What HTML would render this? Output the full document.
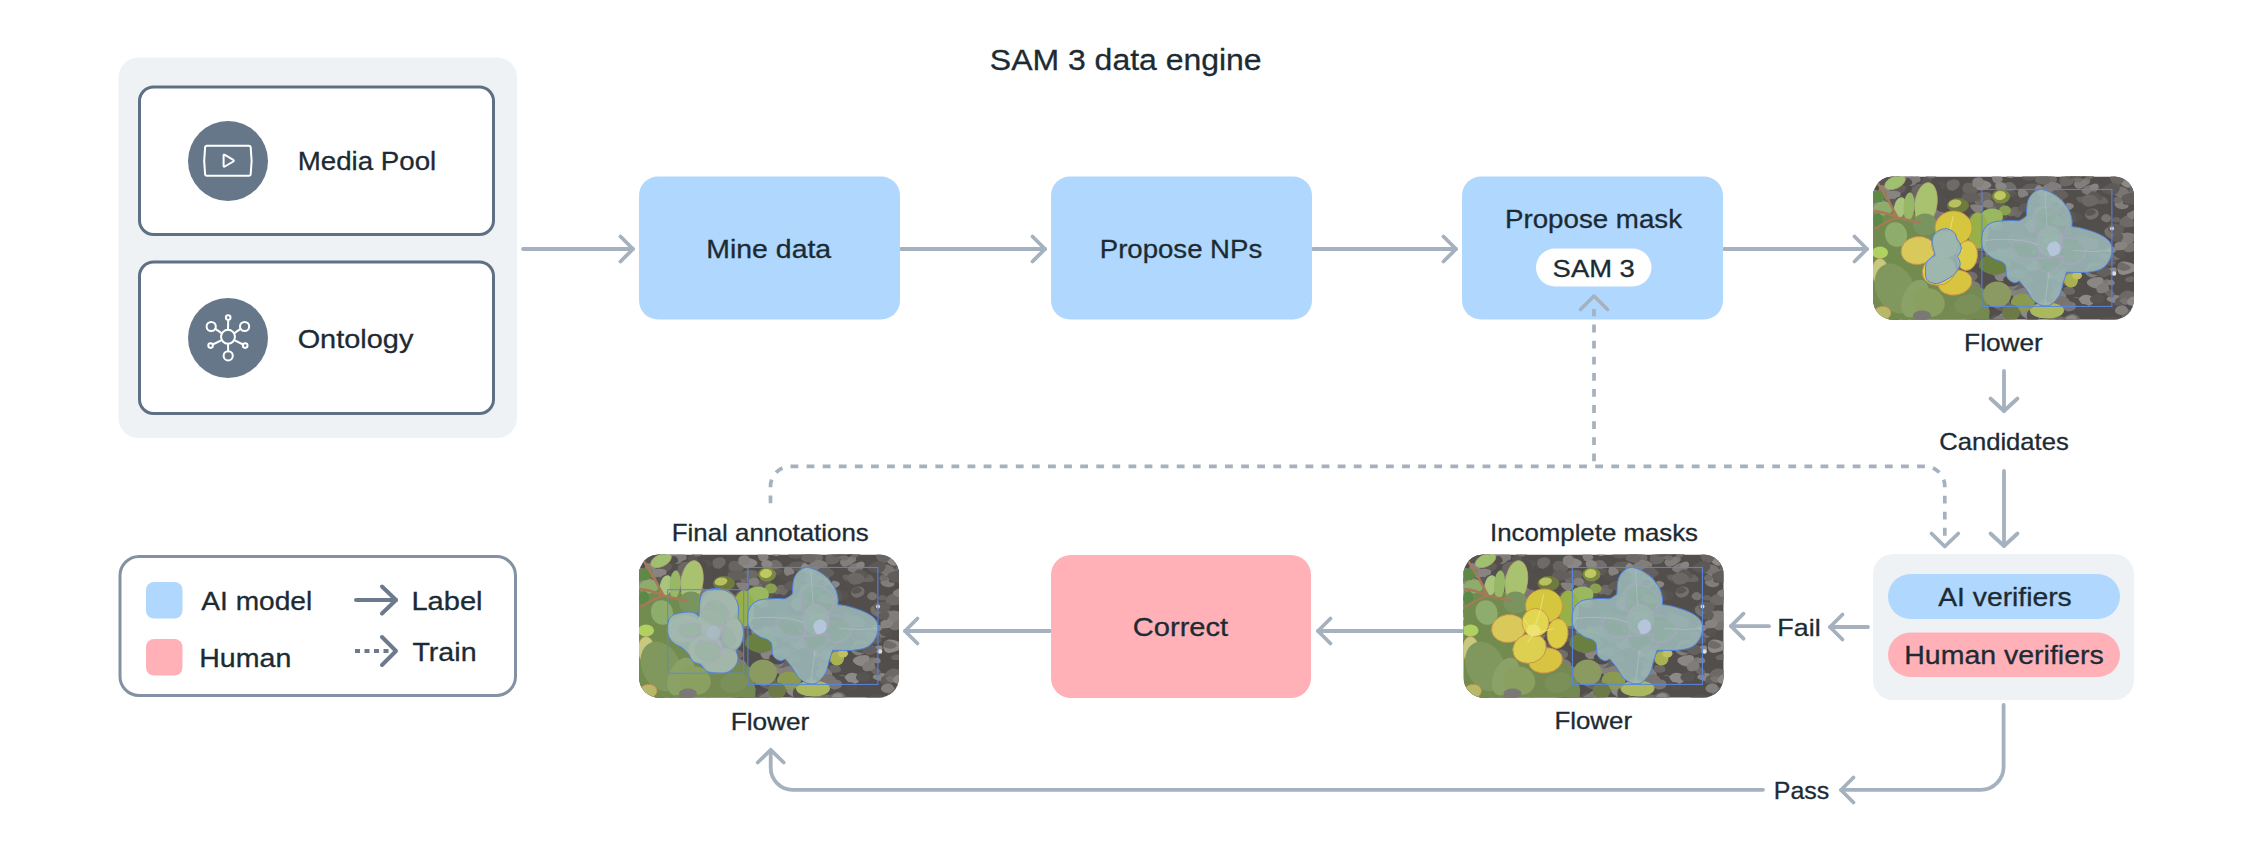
<!DOCTYPE html>
<html><head><meta charset="utf-8">
<style>
html,body{margin:0;padding:0;background:#fff;width:2252px;height:844px;overflow:hidden}
svg{display:block}
text{font-family:"Liberation Sans",sans-serif;fill:#1c2b33}
</style></head><body>
<svg width="2252" height="844" viewBox="0 0 2252 844">
<defs>
<clipPath id="c1"><rect x="1873" y="176.5" width="261" height="143" rx="20"/></clipPath>
<clipPath id="c2"><rect x="1463.5" y="554.5" width="260" height="143" rx="20"/></clipPath>
<clipPath id="c3"><rect x="639" y="554.5" width="260" height="143" rx="20"/></clipPath>
<g id="pbase">
<rect x="0" y="0" width="262" height="144" fill="#524e4b"/>
<path d="M108.7,80.1 Q109.9,77.2 115.9,75.6 Q121.9,74.1 123.9,76.5 Q126.0,79.0 126.5,82.6 Q127.1,86.3 120.9,86.4 Q114.7,86.5 111.2,84.8 Q107.6,83.1 108.7,80.1Z" fill="#8e8a87"/>
<path d="M100.0,59.1 Q103.5,59.8 107.5,62.4 Q111.5,65.0 108.7,67.3 Q106.0,69.5 102.4,69.4 Q98.8,69.2 96.5,67.5 Q94.3,65.8 95.4,62.1 Q96.5,58.3 100.0,59.1Z" fill="#504c49"/>
<path d="M181.0,67.6 Q178.6,68.8 176.4,68.9 Q174.1,68.9 171.6,67.6 Q169.2,66.3 170.6,63.6 Q172.0,60.8 175.8,60.5 Q179.6,60.2 181.5,63.3 Q183.4,66.4 181.0,67.6Z" fill="#86827f"/>
<path d="M188.9,30.7 Q184.8,33.2 180.1,32.6 Q175.4,32.0 174.5,28.3 Q173.6,24.6 176.0,22.4 Q178.4,20.1 183.9,21.7 Q189.5,23.4 191.3,25.8 Q193.0,28.2 188.9,30.7Z" fill="#7d7976"/>
<path d="M19.8,7.7 Q15.7,8.1 13.0,5.3 Q10.2,2.4 12.5,-0.5 Q14.7,-3.4 19.2,-3.5 Q23.6,-3.6 27.0,0.1 Q30.3,3.8 27.0,5.6 Q23.8,7.3 19.8,7.7Z" fill="#635f5c"/>
<path d="M274.1,-3.6 Q272.8,-2.5 270.1,-2.3 Q267.4,-2.1 265.0,-3.5 Q262.6,-5.0 264.7,-6.2 Q266.8,-7.5 269.2,-8.2 Q271.6,-9.0 273.5,-6.9 Q275.5,-4.8 274.1,-3.6Z" fill="#504c49"/>
<path d="M164.6,52.6 Q162.6,55.0 160.5,56.3 Q158.4,57.6 155.6,54.8 Q152.8,51.9 152.6,50.0 Q152.5,48.1 157.3,47.8 Q162.1,47.6 164.3,48.8 Q166.5,50.1 164.6,52.6Z" fill="#8c8885"/>
<path d="M103.5,71.3 Q101.9,73.1 99.2,72.4 Q96.4,71.7 95.9,69.6 Q95.3,67.5 97.0,66.2 Q98.6,64.9 101.1,66.3 Q103.6,67.7 104.4,68.7 Q105.2,69.6 103.5,71.3Z" fill="#6e6a67"/>
<path d="M143.1,132.0 Q141.4,131.2 142.0,128.3 Q142.5,125.5 145.1,124.3 Q147.7,123.0 150.8,125.0 Q153.9,127.0 154.7,129.8 Q155.4,132.5 150.1,132.7 Q144.8,132.9 143.1,132.0Z" fill="#8e8a87"/>
<path d="M91.2,109.9 Q89.5,112.5 86.5,112.9 Q83.5,113.4 80.8,111.9 Q78.2,110.5 78.0,108.7 Q77.9,106.9 80.9,106.0 Q84.0,105.0 88.5,106.2 Q93.0,107.4 91.2,109.9Z" fill="#6c6865"/>
<path d="M148.1,104.7 Q152.2,107.4 153.1,110.8 Q154.0,114.1 148.4,115.3 Q142.9,116.5 138.1,115.0 Q133.4,113.5 134.0,110.1 Q134.5,106.6 139.3,104.3 Q144.0,102.0 148.1,104.7Z" fill="#686461"/>
<path d="M99.5,-3.8 Q97.4,-2.7 94.6,-3.8 Q91.9,-5.0 92.5,-6.4 Q93.1,-7.9 95.4,-8.8 Q97.8,-9.7 99.7,-8.6 Q101.6,-7.5 101.6,-6.2 Q101.7,-4.8 99.5,-3.8Z" fill="#55514e"/>
<path d="M118.4,26.9 Q121.6,25.2 125.5,24.0 Q129.4,22.7 131.2,25.4 Q132.9,28.0 130.9,31.5 Q128.8,35.0 124.9,35.2 Q120.9,35.3 118.1,31.9 Q115.2,28.6 118.4,26.9Z" fill="#64605d"/>
<path d="M109.5,29.1 Q111.3,30.5 109.6,33.5 Q108.0,36.5 105.7,37.0 Q103.4,37.4 100.7,34.7 Q98.1,32.1 97.2,29.9 Q96.2,27.8 102.0,27.7 Q107.7,27.6 109.5,29.1Z" fill="#84807d"/>
<path d="M37.8,67.8 Q34.8,66.9 33.4,64.2 Q32.0,61.6 34.9,61.2 Q37.8,60.7 40.5,60.2 Q43.2,59.7 44.6,62.1 Q46.0,64.4 43.4,66.5 Q40.8,68.7 37.8,67.8Z" fill="#74706d"/>
<path d="M89.9,92.0 Q93.8,91.6 96.7,93.6 Q99.6,95.7 96.4,97.8 Q93.2,99.9 91.2,100.7 Q89.1,101.5 86.1,98.9 Q83.1,96.4 84.5,94.4 Q86.0,92.4 89.9,92.0Z" fill="#54504d"/>
<path d="M182.6,27.5 Q178.2,27.2 176.8,25.7 Q175.4,24.1 177.6,21.5 Q179.7,18.9 183.6,19.1 Q187.4,19.2 189.1,21.6 Q190.8,24.0 188.9,25.9 Q187.0,27.9 182.6,27.5Z" fill="#898582"/>
<path d="M48.0,58.3 Q47.9,55.0 50.3,52.7 Q52.6,50.4 57.8,51.5 Q62.9,52.5 62.9,55.9 Q62.9,59.3 58.3,61.2 Q53.8,63.2 50.9,62.4 Q48.1,61.6 48.0,58.3Z" fill="#878380"/>
<path d="M215.8,100.0 Q211.7,97.8 212.0,95.0 Q212.2,92.3 215.7,89.8 Q219.2,87.4 221.7,89.2 Q224.2,91.1 226.2,93.7 Q228.2,96.3 224.0,99.3 Q219.8,102.3 215.8,100.0Z" fill="#817d7a"/>
<path d="M73.2,138.4 Q74.9,140.2 72.0,141.7 Q69.1,143.3 65.8,142.6 Q62.5,142.0 62.3,140.1 Q62.1,138.2 64.1,136.3 Q66.1,134.4 68.8,135.6 Q71.5,136.7 73.2,138.4Z" fill="#75716e"/>
<path d="M251.6,3.6 Q254.1,1.7 257.4,2.3 Q260.6,2.9 261.1,4.5 Q261.5,6.0 259.4,8.4 Q257.2,10.8 254.7,10.4 Q252.2,10.0 250.7,7.7 Q249.1,5.5 251.6,3.6Z" fill="#8d8986"/>
<path d="M137.8,35.9 Q136.4,33.4 138.7,31.5 Q141.0,29.5 146.3,30.9 Q151.5,32.3 150.4,34.6 Q149.2,36.9 147.2,39.5 Q145.3,42.0 142.3,40.2 Q139.3,38.4 137.8,35.9Z" fill="#6d6966"/>
<path d="M101.4,149.6 Q96.6,148.5 98.5,144.2 Q100.5,139.9 103.9,139.6 Q107.3,139.2 112.8,140.7 Q118.4,142.2 117.8,145.4 Q117.2,148.6 111.7,149.7 Q106.2,150.7 101.4,149.6Z" fill="#514d4a"/>
<path d="M-1.1,18.8 Q-2.7,17.9 -2.5,16.0 Q-2.2,14.1 0.6,13.7 Q3.4,13.2 5.5,14.6 Q7.6,16.0 7.0,17.3 Q6.5,18.6 3.5,19.2 Q0.5,19.7 -1.1,18.8Z" fill="#84807d"/>
<path d="M138.7,14.0 Q142.0,13.6 143.2,15.5 Q144.3,17.4 143.7,19.4 Q143.2,21.4 139.9,21.2 Q136.6,20.9 134.4,20.0 Q132.3,19.1 133.8,16.7 Q135.4,14.3 138.7,14.0Z" fill="#5d5956"/>
<path d="M212.2,22.5 Q213.3,24.2 210.7,25.6 Q208.1,26.9 206.4,25.9 Q204.6,24.9 203.7,23.2 Q202.7,21.4 204.5,20.5 Q206.3,19.5 208.7,20.2 Q211.1,20.8 212.2,22.5Z" fill="#66625f"/>
<path d="M241.8,145.1 Q243.6,144.0 245.2,144.0 Q246.8,144.1 248.8,145.1 Q250.8,146.2 249.4,148.3 Q248.0,150.4 245.8,150.2 Q243.7,149.9 241.8,148.1 Q240.0,146.3 241.8,145.1Z" fill="#5d5956"/>
<path d="M40.4,14.2 Q43.0,14.5 44.5,15.5 Q45.9,16.6 44.4,18.7 Q42.9,20.9 40.2,21.0 Q37.5,21.1 36.3,19.0 Q35.1,16.9 36.4,15.5 Q37.7,14.0 40.4,14.2Z" fill="#5c5855"/>
<path d="M36.6,65.4 Q36.3,62.5 40.0,60.0 Q43.7,57.5 47.7,59.3 Q51.7,61.1 50.7,64.4 Q49.8,67.6 46.2,69.2 Q42.6,70.9 39.8,69.5 Q36.9,68.2 36.6,65.4Z" fill="#8e8a87"/>
<path d="M87.5,117.0 Q84.7,117.3 82.7,116.5 Q80.8,115.8 81.4,113.5 Q82.0,111.3 84.5,110.8 Q87.0,110.2 90.2,110.9 Q93.3,111.6 91.8,114.2 Q90.3,116.8 87.5,117.0Z" fill="#635f5c"/>
<path d="M122.6,-10.1 Q126.3,-10.6 127.9,-9.1 Q129.4,-7.6 128.0,-5.1 Q126.6,-2.5 123.3,-1.6 Q119.9,-0.6 117.4,-3.2 Q114.9,-5.7 116.9,-7.7 Q118.8,-9.6 122.6,-10.1Z" fill="#807c79"/>
<path d="M103.7,87.1 Q100.9,88.2 99.5,86.5 Q98.0,84.8 97.9,83.5 Q97.8,82.2 100.1,81.2 Q102.3,80.1 104.6,81.3 Q107.0,82.4 106.7,84.2 Q106.4,85.9 103.7,87.1Z" fill="#86827f"/>
<path d="M274.7,99.8 Q271.7,101.7 266.8,100.1 Q261.8,98.4 260.8,95.2 Q259.8,92.1 264.2,90.5 Q268.7,89.0 272.9,90.5 Q277.1,92.0 277.4,94.9 Q277.8,97.8 274.7,99.8Z" fill="#716d6a"/>
<path d="M95.9,40.1 Q98.2,36.8 101.3,36.3 Q104.4,35.9 107.7,38.8 Q111.1,41.6 109.6,44.1 Q108.1,46.6 104.8,46.7 Q101.4,46.8 97.5,45.1 Q93.6,43.4 95.9,40.1Z" fill="#696562"/>
<path d="M10.2,156.7 Q6.9,158.9 2.5,156.9 Q-1.8,154.9 -2.3,150.1 Q-2.8,145.3 1.1,143.4 Q5.0,141.5 10.3,144.3 Q15.6,147.1 14.6,150.8 Q13.6,154.4 10.2,156.7Z" fill="#575350"/>
<path d="M9.6,57.6 Q10.5,59.1 9.3,60.8 Q8.2,62.5 5.0,62.1 Q1.9,61.8 0.9,60.0 Q-0.1,58.3 2.5,57.0 Q5.1,55.7 6.9,55.9 Q8.7,56.2 9.6,57.6Z" fill="#625e5b"/>
<path d="M200.9,29.6 Q200.7,31.1 198.6,32.6 Q196.5,34.1 194.0,33.3 Q191.4,32.5 191.8,30.6 Q192.1,28.6 193.2,27.1 Q194.3,25.6 197.7,26.8 Q201.1,28.1 200.9,29.6Z" fill="#8a8683"/>
<path d="M51.9,103.1 Q51.1,105.2 46.6,106.2 Q42.2,107.2 41.0,103.6 Q39.8,100.0 40.2,97.7 Q40.7,95.3 45.7,96.1 Q50.7,96.8 51.7,98.9 Q52.8,101.0 51.9,103.1Z" fill="#65615e"/>
<path d="M92.8,116.0 Q87.5,118.7 84.1,117.1 Q80.7,115.4 79.0,112.0 Q77.2,108.6 81.8,106.3 Q86.3,104.1 91.0,106.6 Q95.7,109.2 96.9,111.2 Q98.1,113.3 92.8,116.0Z" fill="#736f6c"/>
<path d="M202.5,120.5 Q205.1,120.3 207.0,122.0 Q209.0,123.7 207.2,125.7 Q205.5,127.8 203.0,127.3 Q200.5,126.7 198.3,125.9 Q196.1,125.1 198.0,122.9 Q199.9,120.8 202.5,120.5Z" fill="#76726f"/>
<path d="M16.0,35.5 Q20.5,35.0 21.2,38.1 Q21.8,41.1 19.4,44.0 Q17.0,46.8 11.6,46.1 Q6.2,45.3 6.5,41.9 Q6.7,38.4 9.1,37.2 Q11.5,36.0 16.0,35.5Z" fill="#837f7c"/>
<path d="M273.7,66.6 Q273.5,68.2 270.4,69.1 Q267.4,69.9 264.2,68.0 Q261.0,66.1 262.8,64.1 Q264.6,62.1 266.9,62.0 Q269.2,61.9 271.6,63.4 Q273.9,64.9 273.7,66.6Z" fill="#75716e"/>
<path d="M155.1,19.4 Q157.3,22.2 153.9,25.1 Q150.6,27.9 145.5,26.4 Q140.3,24.8 139.8,22.3 Q139.2,19.7 143.5,17.5 Q147.9,15.3 150.4,15.9 Q152.9,16.6 155.1,19.4Z" fill="#55514e"/>
<path d="M71.3,11.5 Q69.3,13.2 66.4,12.6 Q63.4,12.1 62.9,9.7 Q62.4,7.4 64.1,6.1 Q65.8,4.9 69.2,5.5 Q72.5,6.1 72.9,7.9 Q73.2,9.7 71.3,11.5Z" fill="#585451"/>
<path d="M132.9,73.1 Q137.0,74.0 137.7,77.5 Q138.5,81.0 134.4,83.2 Q130.3,85.3 125.7,83.4 Q121.2,81.5 120.5,78.8 Q119.8,76.1 124.3,74.1 Q128.8,72.1 132.9,73.1Z" fill="#837f7c"/>
<path d="M19.5,144.8 Q14.5,142.6 14.0,139.7 Q13.5,136.8 17.2,134.2 Q20.9,131.6 26.4,133.6 Q31.9,135.6 31.0,138.8 Q30.1,142.0 27.4,144.5 Q24.6,147.0 19.5,144.8Z" fill="#8a8683"/>
<path d="M39.2,-1.5 Q40.7,-2.3 43.8,-1.5 Q46.9,-0.8 47.5,2.2 Q48.1,5.2 45.4,5.7 Q42.7,6.3 39.8,5.4 Q36.9,4.5 37.3,1.9 Q37.7,-0.7 39.2,-1.5Z" fill="#807c79"/>
<path d="M246.6,86.4 Q249.4,83.9 255.6,85.7 Q261.7,87.4 263.0,90.3 Q264.4,93.2 259.6,95.7 Q254.8,98.1 250.2,98.4 Q245.5,98.7 244.6,93.8 Q243.8,89.0 246.6,86.4Z" fill="#8e8a87"/>
<path d="M143.7,76.0 Q143.3,77.5 139.6,78.4 Q135.9,79.2 133.9,76.8 Q132.0,74.3 133.5,73.1 Q135.1,71.9 137.9,71.4 Q140.7,70.9 142.4,72.7 Q144.2,74.6 143.7,76.0Z" fill="#878380"/>
<path d="M215.6,8.8 Q219.1,7.9 223.0,8.8 Q226.9,9.7 225.1,12.7 Q223.3,15.7 219.5,17.6 Q215.8,19.5 211.3,17.3 Q206.9,15.1 209.5,12.4 Q212.1,9.6 215.6,8.8Z" fill="#7c7875"/>
<path d="M129.7,142.5 Q132.0,145.6 129.7,148.0 Q127.4,150.4 122.8,150.1 Q118.1,149.9 116.9,147.0 Q115.7,144.1 118.2,142.0 Q120.8,139.9 124.0,139.7 Q127.3,139.4 129.7,142.5Z" fill="#635f5c"/>
<path d="M103.9,75.2 Q108.5,73.6 112.4,77.7 Q116.3,81.7 112.1,84.1 Q107.8,86.5 103.4,87.5 Q98.9,88.6 96.7,84.4 Q94.5,80.3 96.9,78.5 Q99.2,76.8 103.9,75.2Z" fill="#625e5b"/>
<path d="M152.0,66.8 Q151.0,67.9 148.9,68.2 Q146.9,68.5 145.6,67.1 Q144.4,65.8 145.1,64.1 Q145.7,62.3 148.0,62.4 Q150.2,62.6 151.6,64.1 Q153.0,65.6 152.0,66.8Z" fill="#7e7a77"/>
<path d="M17.6,40.5 Q18.9,39.0 21.7,38.6 Q24.4,38.2 26.1,39.7 Q27.7,41.1 27.0,42.4 Q26.2,43.8 23.2,45.0 Q20.3,46.2 18.3,44.1 Q16.3,42.1 17.6,40.5Z" fill="#56524f"/>
<path d="M50.2,18.0 Q50.0,15.5 52.5,14.2 Q55.1,12.8 57.4,14.2 Q59.7,15.6 59.8,17.1 Q59.9,18.5 58.2,19.6 Q56.6,20.6 53.5,20.5 Q50.4,20.5 50.2,18.0Z" fill="#7c7875"/>
<path d="M85.0,119.4 Q84.2,121.0 81.0,121.6 Q77.8,122.3 76.3,120.7 Q74.8,119.1 75.9,117.4 Q77.1,115.6 80.1,115.3 Q83.1,114.9 84.4,116.4 Q85.7,117.9 85.0,119.4Z" fill="#726e6b"/>
<path d="M238.4,77.9 Q241.2,75.1 244.4,75.2 Q247.7,75.3 249.5,77.1 Q251.2,78.9 248.4,81.1 Q245.6,83.3 243.4,83.5 Q241.2,83.7 238.4,82.2 Q235.7,80.7 238.4,77.9Z" fill="#74706d"/>
<path d="M112.9,44.1 Q113.8,46.3 112.1,47.6 Q110.3,48.9 107.7,48.2 Q105.1,47.4 104.6,45.7 Q104.1,44.0 105.6,42.5 Q107.1,41.0 109.5,41.4 Q111.9,41.8 112.9,44.1Z" fill="#65615e"/>
<path d="M152.1,15.2 Q148.6,13.5 149.9,10.6 Q151.3,7.8 155.4,7.2 Q159.4,6.6 164.6,7.3 Q169.8,8.1 167.3,12.8 Q164.8,17.6 160.3,17.2 Q155.7,16.8 152.1,15.2Z" fill="#635f5c"/>
<path d="M198.4,121.5 Q202.5,121.0 206.6,122.4 Q210.7,123.9 210.5,127.4 Q210.3,130.9 205.8,132.0 Q201.3,133.2 196.3,132.2 Q191.4,131.3 192.9,126.6 Q194.3,122.0 198.4,121.5Z" fill="#534f4c"/>
<path d="M170.8,3.6 Q167.4,3.4 164.2,1.0 Q161.1,-1.4 163.3,-4.6 Q165.5,-7.8 169.9,-8.3 Q174.3,-8.9 177.4,-5.3 Q180.5,-1.7 177.3,1.0 Q174.2,3.8 170.8,3.6Z" fill="#6a6663"/>
<path d="M225.5,10.7 Q224.8,12.5 222.3,13.2 Q219.7,14.0 218.1,13.0 Q216.4,12.0 216.8,10.4 Q217.3,8.8 220.2,7.6 Q223.2,6.4 224.7,7.7 Q226.3,9.0 225.5,10.7Z" fill="#888481"/>
<path d="M7.1,9.6 Q8.4,7.2 11.2,7.4 Q14.0,7.7 15.9,9.7 Q17.7,11.7 17.5,14.1 Q17.2,16.5 11.6,16.2 Q5.9,15.9 5.8,14.0 Q5.7,12.1 7.1,9.6Z" fill="#878380"/>
<path d="M143.0,79.0 Q145.0,78.3 147.7,79.6 Q150.3,80.8 148.7,83.2 Q147.0,85.5 144.4,86.0 Q141.9,86.5 140.6,84.9 Q139.3,83.4 140.1,81.5 Q140.9,79.7 143.0,79.0Z" fill="#6c6865"/>
<path d="M234.9,124.2 Q232.5,123.0 235.0,120.6 Q237.6,118.1 242.6,118.4 Q247.6,118.6 247.2,120.8 Q246.8,123.0 245.8,125.4 Q244.8,127.8 241.0,126.6 Q237.3,125.4 234.9,124.2Z" fill="#898582"/>
<path d="M16.0,41.5 Q17.0,45.9 13.1,47.1 Q9.2,48.4 3.3,47.1 Q-2.5,45.9 -0.9,42.8 Q0.7,39.7 4.8,37.0 Q8.9,34.3 11.9,35.6 Q15.0,37.0 16.0,41.5Z" fill="#615d5a"/>
<path d="M234.6,102.8 Q236.0,103.2 237.9,104.8 Q239.9,106.5 237.9,107.7 Q236.0,109.0 233.2,109.3 Q230.5,109.6 229.7,107.3 Q228.8,104.9 231.0,103.6 Q233.1,102.3 234.6,102.8Z" fill="#7a7673"/>
<path d="M143.3,12.2 Q142.3,13.6 138.4,14.4 Q134.4,15.3 131.8,14.0 Q129.1,12.8 129.9,9.6 Q130.6,6.4 134.7,5.7 Q138.8,5.0 141.5,7.9 Q144.2,10.8 143.3,12.2Z" fill="#726e6b"/>
<path d="M58.5,122.8 Q56.8,122.0 56.6,120.0 Q56.5,118.1 60.0,118.0 Q63.6,118.0 65.5,118.6 Q67.4,119.2 67.1,121.3 Q66.7,123.4 63.4,123.5 Q60.2,123.6 58.5,122.8Z" fill="#6f6b68"/>
<path d="M16.3,1.0 Q16.7,3.6 12.1,6.3 Q7.6,9.0 3.3,6.8 Q-1.0,4.6 -0.3,1.8 Q0.3,-0.9 4.8,-1.9 Q9.4,-2.9 12.7,-2.3 Q15.9,-1.6 16.3,1.0Z" fill="#6b6764"/>
<path d="M62.6,59.1 Q64.9,60.8 64.4,63.9 Q63.8,67.0 60.7,68.1 Q57.5,69.2 52.8,66.4 Q48.1,63.7 50.5,60.9 Q52.9,58.1 56.6,57.7 Q60.3,57.3 62.6,59.1Z" fill="#595552"/>
<path d="M153.1,86.9 Q156.1,85.5 160.5,84.2 Q164.8,82.9 168.1,86.4 Q171.4,89.8 167.8,91.9 Q164.2,94.0 160.2,94.8 Q156.1,95.6 153.2,92.0 Q150.2,88.3 153.1,86.9Z" fill="#84807d"/>
<path d="M160.9,73.3 Q164.0,72.2 167.0,72.7 Q170.1,73.1 170.1,76.3 Q170.1,79.4 168.0,79.8 Q165.8,80.2 163.0,79.1 Q160.1,78.1 159.0,76.2 Q157.8,74.3 160.9,73.3Z" fill="#8e8a87"/>
<path d="M254.2,7.1 Q259.4,4.7 262.2,6.8 Q264.9,8.8 264.4,12.2 Q263.9,15.6 260.4,17.1 Q256.9,18.7 252.0,16.4 Q247.2,14.1 248.1,11.8 Q249.0,9.5 254.2,7.1Z" fill="#7b7774"/>
<path d="M266.9,119.4 Q262.7,118.4 262.4,114.6 Q262.1,110.8 264.4,108.7 Q266.6,106.6 270.6,109.0 Q274.6,111.4 276.3,113.9 Q277.9,116.4 274.6,118.4 Q271.2,120.3 266.9,119.4Z" fill="#534f4c"/>
<path d="M205.9,83.4 Q207.6,86.8 203.9,87.9 Q200.2,88.9 195.8,88.6 Q191.5,88.2 188.7,84.7 Q185.9,81.3 191.2,78.6 Q196.5,75.9 200.4,77.9 Q204.2,79.9 205.9,83.4Z" fill="#696562"/>
<path d="M46.3,65.5 Q48.1,63.8 50.2,63.5 Q52.3,63.3 54.9,64.6 Q57.5,65.8 56.6,67.3 Q55.7,68.8 53.6,69.8 Q51.4,70.9 48.0,69.1 Q44.5,67.3 46.3,65.5Z" fill="#696562"/>
<path d="M152.1,98.6 Q148.4,99.2 146.0,98.8 Q143.6,98.4 143.3,96.0 Q143.0,93.6 147.2,92.8 Q151.4,92.0 153.3,93.5 Q155.3,95.0 155.5,96.5 Q155.8,97.9 152.1,98.6Z" fill="#605c59"/>
<path d="M202.3,75.7 Q201.0,74.3 202.8,73.2 Q204.6,72.1 207.4,72.4 Q210.2,72.7 211.0,74.3 Q211.8,75.9 209.8,77.4 Q207.7,78.9 205.6,78.0 Q203.5,77.1 202.3,75.7Z" fill="#7a7673"/>
<path d="M91.7,129.4 Q94.2,126.9 97.8,127.2 Q101.4,127.5 102.8,130.9 Q104.3,134.3 101.2,137.2 Q98.2,140.2 95.1,138.4 Q92.0,136.5 90.6,134.2 Q89.2,131.8 91.7,129.4Z" fill="#807c79"/>
<path d="M271.2,39.8 Q271.8,44.0 266.8,44.4 Q261.8,44.8 259.4,43.3 Q257.1,41.7 256.6,39.4 Q256.1,37.0 258.8,35.6 Q261.6,34.2 266.1,34.9 Q270.7,35.7 271.2,39.8Z" fill="#65615e"/>
<path d="M76.8,104.3 Q77.0,106.8 73.8,108.0 Q70.7,109.3 67.5,107.5 Q64.4,105.8 65.5,104.2 Q66.6,102.5 69.5,101.7 Q72.3,100.8 74.5,101.3 Q76.7,101.7 76.8,104.3Z" fill="#8a8683"/>
<path d="M1.4,57.7 Q-0.7,59.6 -3.6,58.4 Q-6.5,57.3 -6.6,55.5 Q-6.6,53.6 -4.9,51.3 Q-3.3,49.0 0.0,50.6 Q3.3,52.2 3.4,54.0 Q3.4,55.9 1.4,57.7Z" fill="#7a7673"/>
<path d="M233.8,95.8 Q232.7,94.1 233.9,93.0 Q235.2,91.9 239.0,91.2 Q242.7,90.5 243.3,92.3 Q244.0,94.1 242.9,96.5 Q241.8,99.0 238.3,98.2 Q234.9,97.4 233.8,95.8Z" fill="#8d8986"/>
<path d="M241.7,-3.4 Q243.8,-5.0 245.3,-5.0 Q246.8,-5.0 248.2,-3.2 Q249.7,-1.5 249.2,-0.2 Q248.7,1.1 245.6,1.1 Q242.5,1.1 241.1,-0.3 Q239.7,-1.7 241.7,-3.4Z" fill="#6f6b68"/>
<path d="M232.1,113.0 Q232.6,114.7 231.7,115.6 Q230.8,116.4 228.1,116.7 Q225.4,117.0 224.6,115.9 Q223.7,114.8 224.4,113.5 Q225.1,112.2 228.3,111.7 Q231.5,111.2 232.1,113.0Z" fill="#65615e"/>
<path d="M158.8,72.4 Q158.1,69.3 160.0,67.6 Q161.8,65.9 165.5,65.9 Q169.3,65.8 170.1,68.3 Q171.0,70.7 169.5,72.5 Q167.9,74.4 163.7,75.0 Q159.4,75.5 158.8,72.4Z" fill="#7d7976"/>
<path d="M77.7,123.4 Q82.2,123.3 83.9,125.6 Q85.5,127.8 83.2,130.6 Q80.9,133.4 77.7,133.2 Q74.5,132.9 72.2,130.3 Q69.9,127.8 71.5,125.6 Q73.1,123.4 77.7,123.4Z" fill="#5b5754"/>
<path d="M92.1,111.0 Q94.9,114.0 91.9,117.3 Q89.0,120.6 85.6,120.0 Q82.1,119.4 79.4,116.3 Q76.6,113.2 78.3,111.4 Q80.1,109.7 84.7,108.8 Q89.4,107.9 92.1,111.0Z" fill="#75716e"/>
<path d="M180.4,122.7 Q176.0,120.6 177.4,117.7 Q178.8,114.7 181.5,112.3 Q184.1,109.8 188.6,113.5 Q193.1,117.2 193.3,119.8 Q193.5,122.3 189.2,123.5 Q184.9,124.7 180.4,122.7Z" fill="#837f7c"/>
<path d="M22.2,42.5 Q23.4,41.1 26.2,42.1 Q29.0,43.0 29.8,44.3 Q30.5,45.6 28.3,47.3 Q26.2,49.1 24.0,48.4 Q21.8,47.6 21.3,45.8 Q20.9,44.0 22.2,42.5Z" fill="#726e6b"/>
<path d="M76.3,128.5 Q77.5,131.6 76.8,133.5 Q76.2,135.3 71.9,135.4 Q67.6,135.5 65.7,133.4 Q63.7,131.2 65.5,129.3 Q67.3,127.4 71.2,126.4 Q75.2,125.5 76.3,128.5Z" fill="#5c5855"/>
<path d="M96.3,35.9 Q95.1,36.4 91.9,36.3 Q88.7,36.2 88.3,34.3 Q87.9,32.5 90.5,31.3 Q93.1,30.2 95.5,31.0 Q98.0,31.9 97.7,33.7 Q97.5,35.4 96.3,35.9Z" fill="#534f4c"/>
<path d="M48.0,95.9 Q43.0,95.2 42.5,90.7 Q42.1,86.3 45.8,84.7 Q49.4,83.1 55.2,85.9 Q61.0,88.8 59.8,91.4 Q58.5,94.1 55.7,95.3 Q52.9,96.5 48.0,95.9Z" fill="#514d4a"/>
<path d="M208.7,43.4 Q206.5,45.8 201.0,45.9 Q195.5,46.1 194.9,43.4 Q194.3,40.7 196.6,38.2 Q198.8,35.6 203.3,36.1 Q207.8,36.6 209.4,38.8 Q210.9,41.1 208.7,43.4Z" fill="#56524f"/>
<path d="M243.8,69.8 Q244.6,67.9 247.7,64.9 Q250.8,61.8 255.1,63.9 Q259.3,65.9 259.6,69.9 Q259.9,73.8 256.4,74.5 Q252.9,75.1 247.9,73.4 Q242.9,71.7 243.8,69.8Z" fill="#54504d"/>
<path d="M239.5,44.5 Q238.2,43.0 240.0,41.8 Q241.8,40.6 243.4,40.6 Q245.1,40.6 246.9,41.9 Q248.8,43.2 248.0,44.7 Q247.3,46.2 244.1,46.1 Q240.9,46.0 239.5,44.5Z" fill="#696562"/>
<path d="M21.6,139.2 Q26.1,139.8 25.7,143.7 Q25.3,147.7 21.5,149.9 Q17.7,152.2 13.1,149.8 Q8.6,147.4 9.6,143.0 Q10.6,138.7 13.8,138.6 Q17.0,138.6 21.6,139.2Z" fill="#54504d"/>
<path d="M180.7,148.4 Q177.2,148.1 175.2,145.7 Q173.2,143.4 174.9,141.5 Q176.5,139.5 181.3,139.7 Q186.0,139.9 186.4,142.2 Q186.8,144.4 185.5,146.6 Q184.1,148.7 180.7,148.4Z" fill="#74706d"/>
<path d="M252.9,7.2 Q257.4,9.0 257.4,11.5 Q257.4,14.0 254.7,16.4 Q252.0,18.7 246.8,16.7 Q241.7,14.6 242.2,12.1 Q242.7,9.7 245.6,7.5 Q248.5,5.3 252.9,7.2Z" fill="#534f4c"/>
<path d="M256.4,19.4 Q255.0,22.1 251.2,22.0 Q247.4,21.9 244.7,19.9 Q242.0,17.8 244.7,15.2 Q247.5,12.5 251.6,12.2 Q255.8,11.8 256.7,14.2 Q257.7,16.6 256.4,19.4Z" fill="#8c8885"/>
<path d="M30.0,13.1 Q27.9,12.7 27.6,10.6 Q27.3,8.5 29.2,8.0 Q31.0,7.5 33.6,7.9 Q36.1,8.4 35.5,10.5 Q35.0,12.6 33.5,13.0 Q32.1,13.5 30.0,13.1Z" fill="#56524f"/>
<path d="M142.4,122.2 Q139.3,120.2 139.4,117.2 Q139.5,114.2 142.1,113.6 Q144.7,113.1 147.6,114.1 Q150.4,115.1 152.5,117.7 Q154.5,120.3 150.0,122.2 Q145.4,124.1 142.4,122.2Z" fill="#85817e"/>
<path d="M77.2,61.5 Q74.3,62.9 70.3,62.8 Q66.2,62.7 64.2,60.3 Q62.1,57.8 66.8,55.2 Q71.4,52.6 75.0,54.1 Q78.6,55.5 79.3,57.8 Q80.0,60.2 77.2,61.5Z" fill="#84807d"/>
<path d="M82.4,46.7 Q80.5,44.7 80.6,41.5 Q80.7,38.3 83.5,38.0 Q86.4,37.7 90.7,39.7 Q95.1,41.7 93.6,43.5 Q92.1,45.4 88.2,47.0 Q84.3,48.7 82.4,46.7Z" fill="#54504d"/>
<path d="M180.1,111.8 Q177.7,110.2 179.4,108.0 Q181.1,105.8 183.9,105.6 Q186.7,105.3 188.6,107.7 Q190.6,110.1 189.0,111.7 Q187.5,113.3 185.0,113.4 Q182.5,113.5 180.1,111.8Z" fill="#75716e"/>
<path d="M33.2,11.8 Q32.6,15.5 28.3,16.9 Q24.0,18.2 19.7,16.5 Q15.3,14.8 16.5,11.3 Q17.7,7.8 22.6,6.2 Q27.4,4.6 30.6,6.4 Q33.8,8.1 33.2,11.8Z" fill="#615d5a"/>
<path d="M70.2,106.5 Q66.4,105.0 66.4,102.9 Q66.3,100.8 70.5,98.5 Q74.7,96.2 77.9,98.2 Q81.1,100.2 82.2,102.7 Q83.3,105.2 78.6,106.6 Q74.0,108.1 70.2,106.5Z" fill="#55514e"/>
<path d="M209.8,-8.8 Q212.8,-9.5 214.1,-8.0 Q215.4,-6.5 215.5,-5.5 Q215.5,-4.4 213.5,-3.2 Q211.4,-2.0 209.8,-3.2 Q208.1,-4.3 207.4,-6.2 Q206.8,-8.1 209.8,-8.8Z" fill="#5e5a57"/>
<path d="M268.2,149.0 Q268.8,151.6 267.9,153.2 Q267.1,154.7 263.6,154.6 Q260.2,154.4 258.9,152.1 Q257.6,149.9 258.9,148.7 Q260.1,147.5 263.9,146.9 Q267.6,146.3 268.2,149.0Z" fill="#696562"/>
<path d="M22.8,120.3 Q21.5,122.2 19.0,122.1 Q16.4,122.1 15.2,120.7 Q14.0,119.4 14.5,118.4 Q15.0,117.3 17.4,116.3 Q19.7,115.3 21.9,116.9 Q24.1,118.5 22.8,120.3Z" fill="#888481"/>
<path d="M-7.3,45.6 Q-4.4,43.2 -0.8,43.3 Q2.9,43.4 3.9,45.8 Q4.9,48.3 2.9,50.6 Q0.8,52.8 -2.8,52.0 Q-6.5,51.2 -8.3,49.7 Q-10.2,48.1 -7.3,45.6Z" fill="#6a6663"/>
<path d="M120.6,154.5 Q115.3,155.2 115.2,152.7 Q115.0,150.3 116.8,148.2 Q118.6,146.1 122.9,145.4 Q127.3,144.6 127.7,147.8 Q128.2,151.0 127.0,152.4 Q125.9,153.9 120.6,154.5Z" fill="#84807d"/>
<path d="M-2.1,12.4 Q0.9,13.7 2.0,15.8 Q3.2,17.9 -1.6,20.8 Q-6.4,23.6 -9.0,21.2 Q-11.6,18.8 -11.7,16.7 Q-11.9,14.7 -8.4,12.9 Q-5.0,11.2 -2.1,12.4Z" fill="#605c59"/>
<path d="M147.0,95.7 Q146.6,98.8 143.4,101.0 Q140.3,103.2 138.3,102.2 Q136.3,101.2 135.1,98.5 Q134.0,95.7 136.8,94.5 Q139.7,93.3 143.5,93.0 Q147.4,92.6 147.0,95.7Z" fill="#827e7b"/>
<path d="M117.8,49.6 Q118.2,46.8 122.2,45.8 Q126.2,44.7 128.0,46.2 Q129.8,47.6 129.7,49.9 Q129.7,52.2 126.5,52.9 Q123.3,53.6 120.3,53.0 Q117.3,52.4 117.8,49.6Z" fill="#7f7b78"/>
<path d="M134.9,106.2 Q138.4,105.1 142.1,106.6 Q145.8,108.1 144.3,110.1 Q142.8,112.1 140.1,112.6 Q137.4,113.0 135.7,112.3 Q133.9,111.6 132.7,109.4 Q131.5,107.3 134.9,106.2Z" fill="#807c79"/>
<path d="M199.2,3.8 Q196.2,2.8 196.8,0.9 Q197.4,-1.1 199.7,-1.8 Q202.0,-2.4 204.8,-1.6 Q207.5,-0.7 206.7,0.6 Q205.9,2.0 204.0,3.3 Q202.2,4.7 199.2,3.8Z" fill="#84807d"/>
<path d="M40.1,39.0 Q38.9,40.4 35.6,41.3 Q32.3,42.2 30.4,39.8 Q28.4,37.4 29.8,35.8 Q31.3,34.1 35.3,34.2 Q39.3,34.2 40.3,35.9 Q41.4,37.6 40.1,39.0Z" fill="#65615e"/>
<path d="M184.5,154.6 Q180.3,155.9 176.6,154.6 Q173.0,153.2 172.6,150.4 Q172.3,147.6 176.8,145.8 Q181.4,143.9 185.4,143.8 Q189.3,143.7 189.1,148.5 Q188.8,153.3 184.5,154.6Z" fill="#7a7673"/>
<path d="M214.1,106.9 Q213.1,104.4 216.9,102.5 Q220.7,100.6 225.5,100.5 Q230.4,100.4 230.6,103.8 Q230.7,107.1 227.9,110.1 Q225.0,113.1 220.1,111.3 Q215.2,109.4 214.1,106.9Z" fill="#8b8784"/>
<path d="M90.6,97.2 Q93.6,94.8 97.7,94.9 Q101.7,95.1 103.6,97.5 Q105.5,99.9 103.7,102.2 Q101.9,104.6 97.4,105.6 Q92.8,106.6 90.2,103.1 Q87.5,99.5 90.6,97.2Z" fill="#716d6a"/>
<path d="M176.4,62.6 Q177.4,60.2 180.0,59.5 Q182.7,58.8 186.1,61.2 Q189.5,63.5 188.0,65.5 Q186.6,67.5 182.1,68.8 Q177.6,70.2 176.5,67.6 Q175.4,64.9 176.4,62.6Z" fill="#605c59"/>
<path d="M95.2,102.2 Q99.8,102.1 101.4,103.7 Q102.9,105.3 101.8,107.5 Q100.7,109.7 98.4,111.1 Q96.0,112.5 93.1,111.0 Q90.2,109.5 90.3,105.9 Q90.5,102.3 95.2,102.2Z" fill="#74706d"/>
<path d="M30.2,69.4 Q31.0,67.8 33.7,65.8 Q36.5,63.9 40.6,66.7 Q44.7,69.5 43.1,71.3 Q41.4,73.0 38.8,73.9 Q36.2,74.8 32.8,72.9 Q29.4,70.9 30.2,69.4Z" fill="#8b8784"/>
<path d="M98.9,41.8 Q101.2,43.3 100.0,44.6 Q98.7,45.8 96.4,47.1 Q94.0,48.4 91.9,46.5 Q89.8,44.6 90.5,43.1 Q91.1,41.5 93.9,40.9 Q96.7,40.2 98.9,41.8Z" fill="#54504d"/>
<path d="M64.2,34.7 Q65.7,32.6 68.7,33.3 Q71.6,33.9 72.9,36.2 Q74.2,38.4 72.4,40.5 Q70.7,42.6 67.4,41.6 Q64.1,40.6 63.4,38.6 Q62.7,36.7 64.2,34.7Z" fill="#534f4c"/>
<path d="M105.1,113.6 Q108.4,112.0 112.4,112.7 Q116.4,113.4 118.3,116.4 Q120.1,119.4 117.4,120.8 Q114.7,122.2 108.9,121.9 Q103.2,121.7 102.5,118.4 Q101.8,115.2 105.1,113.6Z" fill="#7f7b78"/>
<path d="M8.0,133.6 Q10.6,131.9 13.2,132.6 Q15.8,133.2 15.9,135.0 Q16.0,136.8 14.2,138.9 Q12.5,140.9 9.5,139.8 Q6.5,138.6 6.0,136.9 Q5.4,135.3 8.0,133.6Z" fill="#827e7b"/>
<path d="M248.0,74.1 Q253.1,73.9 253.2,76.9 Q253.3,79.8 252.3,81.1 Q251.3,82.3 247.7,82.0 Q244.1,81.7 241.8,79.4 Q239.4,77.0 241.1,75.7 Q242.9,74.4 248.0,74.1Z" fill="#55514e"/>
<path d="M32.5,35.5 Q36.2,36.8 36.6,39.5 Q37.0,42.2 35.0,43.1 Q32.9,44.0 28.6,43.8 Q24.3,43.6 23.5,41.2 Q22.7,38.7 25.8,36.5 Q28.8,34.3 32.5,35.5Z" fill="#8b8784"/>
<path d="M44.3,114.8 Q45.6,117.0 42.5,117.7 Q39.4,118.3 37.0,118.1 Q34.6,117.8 34.3,115.0 Q34.1,112.3 36.7,112.1 Q39.4,111.9 41.1,112.3 Q42.9,112.7 44.3,114.8Z" fill="#676360"/>
<path d="M16.9,115.9 Q18.6,118.6 16.5,121.8 Q14.3,124.9 9.8,125.1 Q5.3,125.2 2.5,122.5 Q-0.2,119.7 3.0,116.7 Q6.2,113.8 10.7,113.5 Q15.2,113.2 16.9,115.9Z" fill="#888481"/>
<path d="M101.2,24.0 Q101.7,21.6 105.3,20.8 Q108.8,19.9 111.0,21.4 Q113.1,23.0 112.5,24.5 Q111.9,26.0 109.5,27.1 Q107.2,28.3 103.9,27.3 Q100.6,26.3 101.2,24.0Z" fill="#7f7b78"/>
<path d="M187.2,97.2 Q190.9,94.8 196.2,94.3 Q201.6,93.9 202.0,97.4 Q202.4,101.0 198.5,104.4 Q194.7,107.9 191.9,105.9 Q189.0,103.8 186.3,101.7 Q183.5,99.6 187.2,97.2Z" fill="#827e7b"/>
<path d="M175.3,34.5 Q171.6,32.3 169.5,28.7 Q167.4,25.1 171.0,24.7 Q174.6,24.3 180.7,24.9 Q186.8,25.4 186.6,27.6 Q186.5,29.7 182.8,33.2 Q179.1,36.7 175.3,34.5Z" fill="#5a5653"/>
<path d="M227.1,147.0 Q224.0,144.3 227.7,142.7 Q231.3,141.0 237.4,140.1 Q243.5,139.1 245.9,143.1 Q248.2,147.1 244.4,149.3 Q240.6,151.5 235.4,150.6 Q230.3,149.7 227.1,147.0Z" fill="#575350"/>
<path d="M257.3,17.6 Q255.2,19.6 250.1,20.2 Q245.0,20.8 241.3,18.5 Q237.7,16.2 239.8,12.7 Q242.0,9.3 246.5,9.8 Q251.1,10.3 255.2,12.9 Q259.3,15.5 257.3,17.6Z" fill="#797572"/>
<path d="M57.3,0.8 Q58.8,1.8 58.8,4.2 Q58.7,6.7 55.5,8.2 Q52.3,9.8 50.1,8.1 Q47.9,6.5 48.6,3.8 Q49.3,1.2 52.5,0.5 Q55.8,-0.1 57.3,0.8Z" fill="#5c5855"/>
<path d="M26.0,66.9 Q27.3,64.6 30.6,62.4 Q33.9,60.1 36.7,63.2 Q39.4,66.3 40.5,68.9 Q41.6,71.4 36.6,71.5 Q31.7,71.7 28.2,70.4 Q24.7,69.1 26.0,66.9Z" fill="#514d4a"/>
<path d="M47.2,-3.1 Q44.8,-1.3 41.6,-2.1 Q38.3,-2.8 36.7,-4.7 Q35.1,-6.6 38.3,-8.2 Q41.4,-9.8 44.4,-9.2 Q47.3,-8.7 48.5,-6.8 Q49.6,-4.9 47.2,-3.1Z" fill="#65615e"/>
<path d="M254.3,65.0 Q257.9,64.6 261.8,67.4 Q265.6,70.1 263.0,72.7 Q260.3,75.2 257.0,75.7 Q253.8,76.2 251.0,73.9 Q248.2,71.6 249.4,68.5 Q250.6,65.3 254.3,65.0Z" fill="#787471"/>
<path d="M14.7,98.7 Q18.0,97.6 20.5,97.9 Q23.0,98.2 24.4,100.7 Q25.7,103.2 22.6,104.9 Q19.5,106.6 17.1,106.1 Q14.7,105.6 13.0,102.8 Q11.3,99.9 14.7,98.7Z" fill="#6e6a67"/>
<path d="M5.7,13.3 Q6.7,11.7 9.2,12.3 Q11.7,12.9 13.0,14.0 Q14.4,15.2 12.9,16.5 Q11.3,17.7 9.2,17.5 Q7.2,17.2 6.0,16.0 Q4.8,14.8 5.7,13.3Z" fill="#86827f"/>
<path d="M118.7,35.6 Q119.3,32.3 126.5,32.2 Q133.6,32.1 134.9,36.1 Q136.2,40.1 133.0,42.8 Q129.7,45.4 124.4,44.9 Q119.0,44.4 118.5,41.6 Q118.0,38.8 118.7,35.6Z" fill="#5b5754"/>
<path d="M30.3,72.7 Q26.1,74.1 21.8,73.3 Q17.4,72.4 15.8,69.4 Q14.2,66.4 19.1,63.5 Q24.0,60.5 26.6,62.1 Q29.3,63.7 31.9,67.5 Q34.5,71.3 30.3,72.7Z" fill="#625e5b"/>
<path d="M235.1,38.0 Q237.5,39.3 238.0,40.9 Q238.6,42.6 237.0,44.4 Q235.3,46.3 232.2,45.6 Q229.1,44.9 228.2,42.8 Q227.3,40.7 229.9,38.7 Q232.6,36.7 235.1,38.0Z" fill="#787471"/>
<path d="M253.1,32.0 Q249.3,33.3 246.5,32.3 Q243.8,31.4 242.1,29.5 Q240.5,27.6 243.4,24.6 Q246.2,21.6 249.6,22.4 Q252.9,23.3 254.9,27.0 Q256.9,30.6 253.1,32.0Z" fill="#817d7a"/>
<path d="M264.0,44.5 Q264.4,49.4 258.7,50.3 Q253.0,51.3 249.5,50.3 Q246.0,49.3 246.6,45.8 Q247.1,42.4 251.3,40.1 Q255.4,37.9 259.5,38.7 Q263.6,39.6 264.0,44.5Z" fill="#6e6a67"/>
<path d="M207.5,76.3 Q207.3,78.4 203.9,79.2 Q200.5,80.0 197.7,78.7 Q195.0,77.5 196.4,75.7 Q197.9,73.9 201.2,72.6 Q204.6,71.3 206.2,72.7 Q207.8,74.1 207.5,76.3Z" fill="#8a8683"/>
<path d="M260.5,6.7 Q264.4,6.8 264.5,9.9 Q264.6,12.9 263.3,15.1 Q262.0,17.4 258.5,16.1 Q254.9,14.9 254.0,12.7 Q253.2,10.5 254.9,8.5 Q256.6,6.5 260.5,6.7Z" fill="#595552"/>
<path d="M40.6,142.6 Q44.2,142.1 46.3,142.9 Q48.4,143.6 49.8,148.1 Q51.2,152.5 47.7,152.6 Q44.2,152.6 39.2,150.8 Q34.1,149.1 35.6,146.1 Q37.1,143.2 40.6,142.6Z" fill="#504c49"/>
<path d="M68.3,107.2 Q64.2,107.6 61.7,105.8 Q59.1,104.1 61.2,102.1 Q63.2,100.1 66.2,99.7 Q69.1,99.3 71.2,100.1 Q73.3,100.9 72.8,103.8 Q72.3,106.8 68.3,107.2Z" fill="#514d4a"/>
<path d="M97.2,105.7 Q102.2,103.6 105.7,106.8 Q109.2,110.0 106.7,112.5 Q104.1,115.0 101.4,116.6 Q98.7,118.1 94.1,115.1 Q89.5,112.1 90.8,110.0 Q92.1,107.8 97.2,105.7Z" fill="#7f7b78"/>
<path d="M106.8,131.2 Q108.6,132.5 107.8,134.6 Q107.0,136.7 104.0,137.3 Q101.0,137.9 98.6,136.8 Q96.2,135.7 97.3,133.3 Q98.4,131.0 101.7,130.5 Q105.0,129.9 106.8,131.2Z" fill="#888481"/>
<path d="M138.9,94.6 Q143.0,93.0 145.5,92.8 Q148.0,92.7 151.0,95.4 Q154.0,98.0 150.5,100.6 Q147.1,103.2 144.5,102.8 Q142.0,102.5 138.3,99.3 Q134.7,96.2 138.9,94.6Z" fill="#76726f"/>
<path d="M197.9,80.3 Q194.5,78.2 197.3,75.1 Q200.1,72.0 205.2,72.0 Q210.3,72.1 212.4,76.1 Q214.5,80.1 211.4,81.9 Q208.3,83.7 204.8,83.1 Q201.3,82.5 197.9,80.3Z" fill="#75716e"/>
<path d="M10.8,31.2 Q7.8,31.9 4.1,30.7 Q0.4,29.6 -0.1,26.6 Q-0.7,23.7 1.9,22.9 Q4.6,22.1 9.3,22.8 Q14.1,23.5 13.9,27.0 Q13.8,30.5 10.8,31.2Z" fill="#837f7c"/>
<path d="M190.2,140.9 Q192.2,139.5 196.2,140.8 Q200.2,142.1 200.6,143.8 Q200.9,145.6 197.8,146.7 Q194.7,147.7 191.8,147.0 Q188.8,146.4 188.5,144.3 Q188.3,142.2 190.2,140.9Z" fill="#716d6a"/>
<path d="M144.3,64.5 Q142.5,64.1 142.8,62.3 Q143.1,60.5 145.3,59.5 Q147.5,58.6 149.5,59.7 Q151.5,60.8 151.0,62.8 Q150.5,64.8 148.3,64.9 Q146.1,65.0 144.3,64.5Z" fill="#696562"/>
<path d="M179.7,14.8 Q180.0,16.1 179.1,18.3 Q178.2,20.4 174.2,19.4 Q170.2,18.3 169.0,16.5 Q167.7,14.6 169.4,12.9 Q171.0,11.2 175.2,12.4 Q179.5,13.6 179.7,14.8Z" fill="#878380"/>
<path d="M77.8,94.1 Q76.4,91.4 77.1,89.8 Q77.8,88.1 82.6,88.2 Q87.3,88.4 88.8,90.0 Q90.3,91.6 89.0,93.9 Q87.8,96.2 83.5,96.4 Q79.3,96.7 77.8,94.1Z" fill="#64605d"/>
<path d="M27.8,145.4 Q29.1,142.3 31.4,142.1 Q33.6,141.9 36.5,143.6 Q39.3,145.2 39.1,147.8 Q39.0,150.5 36.3,150.6 Q33.7,150.7 30.2,149.6 Q26.6,148.5 27.8,145.4Z" fill="#5e5a57"/>
<path d="M133.0,94.5 Q135.9,97.3 137.1,99.6 Q138.2,101.8 133.2,103.7 Q128.1,105.6 124.7,103.9 Q121.3,102.2 121.5,98.7 Q121.7,95.2 125.9,93.5 Q130.1,91.8 133.0,94.5Z" fill="#8a8683"/>
<path d="M185.9,16.7 Q188.5,16.8 190.1,18.6 Q191.6,20.3 190.2,21.9 Q188.9,23.4 186.2,23.6 Q183.5,23.8 181.8,22.5 Q180.2,21.2 181.8,18.9 Q183.4,16.5 185.9,16.7Z" fill="#75716e"/>
<path d="M41.4,23.1 Q39.2,24.4 36.4,22.6 Q33.6,20.9 34.1,19.1 Q34.6,17.3 37.1,16.2 Q39.6,15.1 42.0,16.5 Q44.3,18.0 44.0,19.9 Q43.6,21.8 41.4,23.1Z" fill="#6c6865"/>
<path d="M144.8,76.2 Q145.8,78.6 142.5,81.4 Q139.1,84.1 136.3,82.6 Q133.5,81.1 131.7,77.2 Q129.9,73.3 134.1,71.8 Q138.4,70.2 141.1,72.0 Q143.8,73.7 144.8,76.2Z" fill="#7f7b78"/>
<path d="M252.1,10.4 Q248.8,8.6 247.8,7.0 Q246.9,5.5 249.8,3.5 Q252.8,1.5 256.0,2.8 Q259.2,4.0 260.2,5.9 Q261.3,7.8 258.3,10.0 Q255.3,12.2 252.1,10.4Z" fill="#8d8986"/>
<path d="M14.1,154.0 Q11.9,154.4 10.1,152.5 Q8.3,150.6 9.4,149.2 Q10.5,147.8 12.6,148.1 Q14.8,148.4 16.8,149.4 Q18.8,150.4 17.6,152.1 Q16.3,153.7 14.1,154.0Z" fill="#7b7774"/>
<path d="M137.1,138.7 Q137.2,141.4 136.7,144.6 Q136.2,147.9 131.9,147.1 Q127.7,146.4 125.8,144.6 Q123.9,142.9 125.5,139.6 Q127.0,136.4 132.0,136.2 Q136.9,136.0 137.1,138.7Z" fill="#8e8a87"/>
<path d="M172.2,28.4 Q175.5,28.0 176.2,31.5 Q176.9,35.0 174.5,37.0 Q172.1,39.0 166.2,39.1 Q160.2,39.2 160.7,35.8 Q161.1,32.4 164.9,30.6 Q168.8,28.9 172.2,28.4Z" fill="#84807d"/>
<path d="M203.2,45.3 Q201.8,46.9 198.5,46.5 Q195.2,46.0 194.1,44.4 Q193.1,42.7 194.9,41.6 Q196.6,40.4 198.8,40.4 Q201.0,40.4 202.8,42.1 Q204.6,43.7 203.2,45.3Z" fill="#5c5855"/>
<path d="M177.0,6.1 Q173.2,5.0 173.6,2.7 Q174.1,0.4 176.4,-0.8 Q178.6,-1.9 180.9,-0.6 Q183.2,0.7 183.9,2.5 Q184.5,4.2 182.6,5.7 Q180.8,7.3 177.0,6.1Z" fill="#716d6a"/>
<path d="M61.4,6.9 Q65.2,6.0 66.6,7.7 Q68.0,9.5 68.5,11.2 Q69.1,12.9 64.9,14.3 Q60.8,15.6 58.5,14.1 Q56.2,12.5 56.9,10.1 Q57.6,7.8 61.4,6.9Z" fill="#524e4b"/>
<path d="M13.0,133.7 Q10.0,133.3 9.2,131.3 Q8.4,129.3 9.4,128.2 Q10.4,127.0 13.0,127.4 Q15.7,127.8 16.6,129.0 Q17.5,130.1 16.7,132.1 Q16.0,134.1 13.0,133.7Z" fill="#888481"/>
<path d="M173.6,20.8 Q167.5,20.9 166.2,18.8 Q164.9,16.8 165.6,13.8 Q166.3,10.7 169.7,9.9 Q173.1,9.0 177.2,10.8 Q181.4,12.5 180.5,16.6 Q179.6,20.7 173.6,20.8Z" fill="#827e7b"/>
<path d="M89.7,13.7 Q90.9,11.4 95.1,11.3 Q99.4,11.3 102.6,12.9 Q105.7,14.6 102.6,17.7 Q99.5,20.7 95.2,21.2 Q91.0,21.6 89.7,18.8 Q88.5,16.0 89.7,13.7Z" fill="#585451"/>
<path d="M44.6,119.1 Q44.5,122.7 41.0,125.6 Q37.6,128.5 32.9,126.6 Q28.1,124.8 28.2,120.2 Q28.3,115.7 33.5,114.8 Q38.6,113.9 41.7,114.7 Q44.8,115.4 44.6,119.1Z" fill="#605c59"/>
<path d="M31.1,147.7 Q33.1,151.9 29.7,153.9 Q26.3,155.9 20.5,154.4 Q14.7,152.9 13.7,149.8 Q12.7,146.6 16.0,145.1 Q19.2,143.5 24.2,143.5 Q29.1,143.5 31.1,147.7Z" fill="#74706d"/>
<path d="M11.0,115.1 Q11.8,112.1 14.3,111.0 Q16.9,109.9 20.1,112.6 Q23.3,115.3 23.9,117.2 Q24.5,119.1 20.1,120.7 Q15.6,122.3 12.9,120.2 Q10.3,118.2 11.0,115.1Z" fill="#605c59"/>
<path d="M51.4,82.4 Q50.6,84.5 46.4,84.6 Q42.2,84.7 41.1,83.4 Q40.0,82.2 41.6,79.8 Q43.2,77.4 47.6,77.0 Q52.0,76.6 52.0,78.4 Q52.1,80.2 51.4,82.4Z" fill="#8b8784"/>
<path d="M175.1,39.6 Q171.7,38.0 172.0,34.6 Q172.2,31.2 176.1,30.8 Q180.0,30.5 183.2,31.1 Q186.4,31.8 186.9,34.7 Q187.4,37.6 182.9,39.4 Q178.4,41.2 175.1,39.6Z" fill="#726e6b"/>
<path d="M201.7,84.3 Q202.0,86.9 196.4,88.2 Q190.8,89.4 188.0,87.1 Q185.2,84.8 187.7,82.5 Q190.2,80.2 193.9,79.8 Q197.6,79.3 199.5,80.5 Q201.4,81.6 201.7,84.3Z" fill="#5e5a57"/>
<path d="M19.2,91.2 Q13.8,92.4 12.5,88.6 Q11.2,84.8 13.5,82.5 Q15.8,80.3 20.1,79.8 Q24.5,79.3 25.9,82.1 Q27.4,84.9 26.0,87.5 Q24.6,90.1 19.2,91.2Z" fill="#726e6b"/>
<path d="M261.8,33.5 Q265.4,32.5 268.7,34.7 Q272.1,36.9 269.9,39.2 Q267.8,41.6 264.8,43.1 Q261.8,44.6 256.8,41.8 Q251.7,38.9 255.0,36.6 Q258.3,34.4 261.8,33.5Z" fill="#827e7b"/>
<path d="M186.5,3.8 Q186.6,-0.3 191.1,-1.6 Q195.7,-2.9 197.7,-1.1 Q199.6,0.8 200.5,4.0 Q201.3,7.3 196.7,9.0 Q192.1,10.6 189.2,9.3 Q186.4,7.9 186.5,3.8Z" fill="#6c6865"/>
<path d="M37.9,55.5 Q42.0,56.4 40.5,59.0 Q39.0,61.7 35.1,63.4 Q31.3,65.2 29.6,63.8 Q28.0,62.5 27.6,58.8 Q27.1,55.1 30.5,54.9 Q33.9,54.6 37.9,55.5Z" fill="#54504d"/>
<path d="M148.6,21.2 Q146.6,21.5 145.4,19.0 Q144.2,16.5 145.3,14.0 Q146.3,11.4 149.5,12.2 Q152.7,13.0 154.7,15.7 Q156.6,18.4 153.6,19.6 Q150.5,20.9 148.6,21.2Z" fill="#85817e"/>
<path d="M0.1,90.7 Q-1.2,89.1 -0.6,86.0 Q0.1,83.0 3.6,83.6 Q7.1,84.1 10.3,86.1 Q13.5,88.0 10.6,89.9 Q7.7,91.9 4.5,92.1 Q1.4,92.4 0.1,90.7Z" fill="#706c69"/>
<path d="M54.2,123.6 Q56.3,120.8 59.9,122.4 Q63.5,124.0 65.0,126.0 Q66.6,128.0 62.7,130.8 Q58.8,133.6 56.7,132.0 Q54.6,130.3 53.3,128.3 Q52.0,126.3 54.2,123.6Z" fill="#706c69"/>
<path d="M11.9,16.7 Q14.0,14.6 19.6,14.3 Q25.3,14.0 27.0,15.8 Q28.7,17.6 26.1,21.4 Q23.4,25.3 18.0,25.0 Q12.7,24.7 11.3,21.8 Q9.8,18.8 11.9,16.7Z" fill="#888481"/>
<path d="M215.0,62.6 Q213.5,63.7 210.3,64.5 Q207.2,65.3 205.1,63.8 Q203.0,62.3 204.2,60.5 Q205.4,58.6 208.6,58.4 Q211.7,58.2 214.1,59.9 Q216.4,61.5 215.0,62.6Z" fill="#686461"/>
<path d="M86.8,7.3 Q86.8,10.0 82.7,12.9 Q78.6,15.8 76.0,13.8 Q73.5,11.8 73.5,8.2 Q73.4,4.6 77.5,3.4 Q81.5,2.2 84.2,3.5 Q86.9,4.7 86.8,7.3Z" fill="#6e6a67"/>
<path d="M260.2,115.6 Q263.9,117.8 261.6,121.9 Q259.3,126.0 256.1,126.4 Q253.0,126.8 248.3,124.9 Q243.6,123.0 246.1,119.2 Q248.6,115.3 252.5,114.3 Q256.5,113.4 260.2,115.6Z" fill="#6d6966"/>
<path d="M153.2,43.3 Q153.1,41.1 156.3,40.3 Q159.5,39.6 161.2,40.1 Q162.9,40.5 163.1,42.4 Q163.3,44.3 161.2,45.1 Q159.1,45.8 156.2,45.6 Q153.2,45.4 153.2,43.3Z" fill="#6a6663"/>
<path d="M160.6,42.1 Q158.6,40.8 158.6,39.1 Q158.7,37.4 161.4,36.3 Q164.1,35.2 167.6,37.4 Q171.1,39.6 169.6,42.0 Q168.2,44.3 165.4,43.9 Q162.5,43.4 160.6,42.1Z" fill="#76726f"/>
<path d="M154.4,123.2 Q151.7,126.3 147.2,123.9 Q142.7,121.6 142.4,118.1 Q142.2,114.6 146.0,112.6 Q149.8,110.7 154.8,112.4 Q159.8,114.2 158.5,117.2 Q157.1,120.2 154.4,123.2Z" fill="#837f7c"/>
<path d="M114.0,70.6 Q114.9,73.4 111.5,74.1 Q108.1,74.8 105.4,74.5 Q102.7,74.1 103.1,71.7 Q103.5,69.3 105.0,67.8 Q106.4,66.2 109.8,67.0 Q113.1,67.7 114.0,70.6Z" fill="#736f6c"/>
<path d="M26.1,20.2 Q31.4,18.5 34.2,19.0 Q37.1,19.5 36.1,23.1 Q35.0,26.7 32.1,28.3 Q29.2,29.9 26.6,27.5 Q23.9,25.1 22.4,23.5 Q20.9,21.8 26.1,20.2Z" fill="#575350"/>
<path d="M98.1,64.4 Q91.7,65.7 87.8,65.3 Q83.9,64.9 85.0,60.9 Q86.0,56.8 90.8,56.1 Q95.7,55.3 100.0,56.5 Q104.3,57.8 104.5,60.4 Q104.6,63.0 98.1,64.4Z" fill="#706c69"/>
<path d="M179.5,103.3 Q181.5,101.6 183.7,102.3 Q185.9,103.0 188.0,105.5 Q190.0,107.9 186.1,108.6 Q182.2,109.3 180.0,109.0 Q177.9,108.7 177.7,106.8 Q177.5,105.0 179.5,103.3Z" fill="#635f5c"/>
<path d="M208.0,-3.1 Q211.5,-4.4 214.5,-1.9 Q217.5,0.5 217.2,3.9 Q216.9,7.2 213.3,7.2 Q209.8,7.1 206.8,5.0 Q203.8,2.9 204.2,0.6 Q204.6,-1.7 208.0,-3.1Z" fill="#85817e"/>
<path d="M71.1,61.9 Q71.9,59.4 75.7,59.2 Q79.4,58.9 80.6,61.7 Q81.9,64.5 80.3,66.2 Q78.7,67.9 76.2,67.8 Q73.6,67.7 71.9,66.1 Q70.2,64.4 71.1,61.9Z" fill="#635f5c"/>
<path d="M239.3,6.6 Q237.1,3.8 237.0,1.4 Q236.8,-1.1 242.2,-0.7 Q247.5,-0.4 249.9,0.8 Q252.4,2.1 250.2,5.2 Q248.0,8.4 244.7,8.9 Q241.5,9.4 239.3,6.6Z" fill="#696562"/>
<path d="M198.5,48.8 Q195.9,50.5 193.4,49.6 Q190.9,48.7 189.8,47.2 Q188.8,45.8 191.4,44.0 Q194.0,42.3 196.7,43.2 Q199.4,44.0 200.2,45.6 Q201.0,47.2 198.5,48.8Z" fill="#534f4c"/>
<path d="M-8.0,116.1 Q-9.7,114.7 -10.7,113.6 Q-11.6,112.5 -9.4,111.1 Q-7.2,109.6 -3.9,110.1 Q-0.6,110.5 -1.3,112.7 Q-2.0,114.9 -4.2,116.2 Q-6.3,117.5 -8.0,116.1Z" fill="#686461"/>
<path d="M208.8,70.1 Q209.9,73.1 207.6,75.8 Q205.4,78.4 200.3,78.7 Q195.3,78.9 194.5,75.2 Q193.8,71.5 195.5,68.9 Q197.2,66.2 202.4,66.7 Q207.7,67.2 208.8,70.1Z" fill="#76726f"/>
<path d="M149.1,138.0 Q143.8,138.5 141.0,136.4 Q138.1,134.2 139.2,132.4 Q140.3,130.5 145.6,129.9 Q150.9,129.2 153.8,130.7 Q156.6,132.1 155.5,134.8 Q154.4,137.4 149.1,138.0Z" fill="#686461"/>
<path d="M240.1,120.4 Q238.1,121.6 235.1,119.8 Q232.1,118.1 231.7,116.2 Q231.2,114.4 233.0,112.8 Q234.7,111.2 238.0,113.2 Q241.2,115.2 241.7,117.2 Q242.1,119.2 240.1,120.4Z" fill="#6c6865"/>
<path d="M26.9,84.6 Q23.3,83.9 22.2,82.2 Q21.1,80.4 22.7,77.4 Q24.2,74.5 28.0,75.1 Q31.9,75.7 34.0,77.9 Q36.1,80.1 33.3,82.6 Q30.5,85.2 26.9,84.6Z" fill="#6e6a67"/>
<path d="M154.4,51.9 Q149.4,50.2 153.1,46.6 Q156.8,43.0 159.8,42.4 Q162.9,41.8 167.9,44.9 Q173.0,48.0 169.7,50.1 Q166.4,52.1 162.8,52.9 Q159.3,53.6 154.4,51.9Z" fill="#8d8986"/>
<path d="M70.9,142.4 Q65.3,143.4 63.0,140.8 Q60.6,138.2 63.0,135.8 Q65.3,133.3 68.1,131.8 Q70.9,130.2 74.2,132.4 Q77.6,134.5 77.1,138.0 Q76.5,141.5 70.9,142.4Z" fill="#575350"/>
<path d="M264.8,137.1 Q266.6,139.2 262.8,143.4 Q259.0,147.6 256.1,146.2 Q253.3,144.9 250.1,141.8 Q246.9,138.7 250.1,135.3 Q253.4,132.0 258.2,133.6 Q263.0,135.1 264.8,137.1Z" fill="#6c6865"/>
<path d="M224.1,24.1 Q225.1,20.9 228.0,20.3 Q231.0,19.6 232.9,21.4 Q234.9,23.2 235.4,25.1 Q235.8,27.0 232.1,27.3 Q228.4,27.6 225.7,27.4 Q223.0,27.3 224.1,24.1Z" fill="#696562"/>
<path d="M253.0,127.0 Q252.6,128.4 248.8,129.0 Q245.1,129.6 244.0,128.3 Q242.8,126.9 243.5,125.3 Q244.1,123.7 246.8,123.0 Q249.5,122.3 251.4,123.9 Q253.3,125.5 253.0,127.0Z" fill="#534f4c"/>
<path d="M224.7,78.4 Q225.2,76.3 227.5,76.2 Q229.8,76.0 231.6,77.7 Q233.4,79.3 233.1,80.9 Q232.8,82.5 230.0,82.6 Q227.2,82.6 225.7,81.6 Q224.2,80.5 224.7,78.4Z" fill="#797572"/>
<path d="M220.2,85.7 Q226.0,85.2 229.2,87.7 Q232.4,90.2 232.1,92.2 Q231.8,94.2 227.4,97.6 Q223.1,101.0 219.0,98.0 Q214.9,95.1 214.7,90.7 Q214.4,86.3 220.2,85.7Z" fill="#7c7875"/>
<path d="M237.1,79.6 Q241.0,81.2 242.4,84.5 Q243.8,87.7 239.6,88.7 Q235.4,89.8 231.8,88.9 Q228.2,88.0 227.4,84.6 Q226.5,81.2 229.9,79.6 Q233.2,78.0 237.1,79.6Z" fill="#65615e"/>
<path d="M123.4,73.5 Q124.9,71.2 129.0,72.0 Q133.1,72.7 134.0,75.0 Q135.0,77.2 131.8,78.2 Q128.7,79.2 126.4,79.6 Q124.1,80.0 123.0,77.9 Q122.0,75.8 123.4,73.5Z" fill="#85817e"/>
<path d="M227.9,74.7 Q230.7,77.2 230.0,80.2 Q229.2,83.2 225.1,83.1 Q220.9,83.0 217.3,79.9 Q213.8,76.8 216.0,75.6 Q218.2,74.4 221.6,73.3 Q225.1,72.2 227.9,74.7Z" fill="#5a5653"/>
<path d="M77.3,84.3 Q81.3,84.9 82.5,86.6 Q83.7,88.4 82.2,90.5 Q80.8,92.7 77.7,92.7 Q74.6,92.7 72.7,90.5 Q70.9,88.4 72.1,86.0 Q73.4,83.7 77.3,84.3Z" fill="#7d7976"/>
<path d="M193.3,92.3 Q188.2,92.7 186.0,89.8 Q183.7,87.0 184.4,84.0 Q185.0,81.0 189.1,80.0 Q193.2,79.1 197.2,82.4 Q201.3,85.7 199.9,88.8 Q198.5,91.9 193.3,92.3Z" fill="#5b5754"/>
<path d="M182.3,40.5 Q185.9,39.0 190.4,40.8 Q194.9,42.6 194.4,45.4 Q193.9,48.2 191.1,48.8 Q188.3,49.4 182.8,48.2 Q177.3,47.0 178.0,44.4 Q178.7,41.9 182.3,40.5Z" fill="#8e8a87"/>
<path d="M215.2,70.2 Q216.4,72.6 212.7,73.3 Q209.0,74.1 205.5,74.3 Q202.0,74.5 201.2,71.5 Q200.4,68.5 203.7,66.6 Q207.0,64.7 210.5,66.3 Q213.9,67.8 215.2,70.2Z" fill="#888481"/>
<path d="M82.1,127.5 Q77.4,128.4 75.1,127.1 Q72.8,125.7 72.6,122.9 Q72.5,120.1 76.7,119.9 Q80.8,119.7 84.0,120.2 Q87.3,120.7 87.0,123.7 Q86.7,126.6 82.1,127.5Z" fill="#8a8683"/>
<path d="M27.6,24.0 Q29.7,25.2 29.2,28.0 Q28.6,30.8 22.6,31.2 Q16.5,31.7 14.7,30.1 Q12.9,28.6 14.3,25.3 Q15.7,22.0 20.6,22.4 Q25.4,22.9 27.6,24.0Z" fill="#5e5a57"/>
<path d="M15.1,76.7 Q15.8,75.2 17.6,74.3 Q19.4,73.4 21.3,74.4 Q23.1,75.4 23.1,77.7 Q23.2,80.0 19.9,80.6 Q16.7,81.2 15.6,79.7 Q14.4,78.2 15.1,76.7Z" fill="#5e5a57"/>
<path d="M259.6,18.1 Q255.9,17.5 256.5,13.8 Q257.1,10.1 260.1,7.8 Q263.1,5.4 268.5,6.4 Q273.9,7.4 272.6,10.3 Q271.3,13.1 267.3,15.9 Q263.3,18.7 259.6,18.1Z" fill="#6c6865"/>
<path d="M255.4,28.0 Q252.3,28.5 250.7,27.7 Q249.2,26.9 249.9,25.4 Q250.6,23.8 253.0,22.9 Q255.4,21.9 257.4,23.5 Q259.4,25.0 258.9,26.3 Q258.5,27.5 255.4,28.0Z" fill="#585451"/>
<path d="M151.1,61.2 Q153.2,59.0 156.2,60.3 Q159.2,61.5 160.8,63.2 Q162.5,64.9 159.3,66.8 Q156.1,68.6 153.8,68.5 Q151.4,68.4 150.2,65.9 Q149.0,63.4 151.1,61.2Z" fill="#6d6966"/>
<path d="M117.0,148.7 Q118.0,146.2 121.6,146.1 Q125.3,146.0 126.8,147.3 Q128.3,148.5 129.0,151.0 Q129.6,153.4 126.4,153.4 Q123.1,153.5 119.5,152.4 Q115.9,151.2 117.0,148.7Z" fill="#74706d"/>
<path d="M144.6,45.3 Q148.2,46.3 149.5,50.7 Q150.8,55.0 144.7,55.7 Q138.6,56.3 134.2,55.2 Q129.8,54.1 130.7,49.9 Q131.6,45.8 136.3,45.1 Q141.0,44.4 144.6,45.3Z" fill="#585451"/>
<path d="M25.5,9.2 Q21.7,9.2 20.5,7.7 Q19.4,6.2 20.4,3.2 Q21.5,0.2 25.0,-0.0 Q28.4,-0.2 29.7,1.4 Q30.9,3.0 30.1,6.1 Q29.3,9.2 25.5,9.2Z" fill="#6b6764"/>
<path d="M21.6,114.6 Q19.8,116.4 17.0,115.3 Q14.2,114.1 13.9,112.5 Q13.5,110.9 15.1,109.2 Q16.7,107.6 20.0,108.4 Q23.3,109.3 23.3,111.0 Q23.3,112.7 21.6,114.6Z" fill="#66625f"/>
<path d="M158.7,31.7 Q158.5,34.1 155.0,35.3 Q151.5,36.5 147.7,35.1 Q143.8,33.7 145.1,30.9 Q146.3,28.1 150.1,26.8 Q153.9,25.5 156.4,27.4 Q158.9,29.3 158.7,31.7Z" fill="#605c59"/>
<path d="M217.3,-6.2 Q219.7,-5.0 220.5,-1.0 Q221.4,3.0 217.0,3.1 Q212.7,3.2 209.8,1.1 Q207.0,-1.1 206.5,-3.8 Q206.1,-6.6 210.5,-7.0 Q214.8,-7.4 217.3,-6.2Z" fill="#5b5754"/>
<path d="M156.4,138.0 Q160.0,136.6 164.3,137.6 Q168.6,138.6 167.1,141.6 Q165.6,144.6 163.7,145.7 Q161.7,146.9 156.7,146.1 Q151.6,145.3 152.2,142.3 Q152.7,139.4 156.4,138.0Z" fill="#736f6c"/>
<path d="M80.5,137.6 Q76.2,140.2 72.1,139.5 Q68.1,138.7 65.3,136.5 Q62.6,134.3 66.0,131.7 Q69.5,129.2 75.5,130.0 Q81.6,130.8 83.2,132.8 Q84.8,134.9 80.5,137.6Z" fill="#8d8986"/>
<path d="M208.7,8.6 Q206.2,7.9 206.0,5.6 Q205.8,3.3 209.3,2.3 Q212.9,1.2 215.1,2.7 Q217.4,4.1 216.9,6.1 Q216.3,8.0 213.8,8.6 Q211.2,9.2 208.7,8.6Z" fill="#7c7875"/>
<path d="M142.0,36.4 Q141.6,38.4 140.0,39.4 Q138.3,40.4 135.4,39.3 Q132.4,38.1 133.4,36.1 Q134.3,34.1 136.0,33.3 Q137.8,32.4 140.1,33.5 Q142.4,34.5 142.0,36.4Z" fill="#716d6a"/>
<path d="M271.7,94.7 Q267.8,96.5 265.1,94.8 Q262.4,93.1 262.7,90.6 Q263.0,88.2 266.2,87.3 Q269.4,86.4 272.3,87.9 Q275.3,89.4 275.5,91.2 Q275.7,92.9 271.7,94.7Z" fill="#55514e"/>
<path d="M226.5,78.3 Q227.6,76.9 230.0,77.0 Q232.3,77.1 234.5,77.8 Q236.7,78.5 235.8,80.4 Q234.9,82.3 232.4,82.5 Q230.0,82.8 227.7,81.3 Q225.4,79.8 226.5,78.3Z" fill="#797572"/>
<path d="M239.2,-7.9 Q238.5,-4.4 235.3,-2.3 Q232.0,-0.1 227.6,-2.5 Q223.1,-4.8 222.5,-7.6 Q221.8,-10.4 226.2,-12.8 Q230.5,-15.3 235.1,-13.3 Q239.8,-11.4 239.2,-7.9Z" fill="#76726f"/>
<path d="M111.4,15.5 Q117.8,15.3 118.7,18.6 Q119.6,21.9 116.9,25.2 Q114.2,28.5 110.1,28.1 Q106.0,27.7 101.9,24.8 Q97.7,21.9 101.4,18.9 Q105.0,15.8 111.4,15.5Z" fill="#6d6966"/>
<path d="M169.7,63.3 Q172.7,66.8 172.3,69.7 Q171.9,72.6 166.6,73.5 Q161.3,74.5 157.6,72.3 Q153.9,70.1 155.1,66.3 Q156.3,62.5 161.5,61.2 Q166.7,59.9 169.7,63.3Z" fill="#6c6865"/>
<path d="M105.7,59.3 Q105.9,60.7 103.9,61.8 Q101.8,62.8 98.7,62.4 Q95.7,62.0 95.9,59.2 Q96.2,56.5 99.2,55.7 Q102.3,54.9 103.9,56.3 Q105.5,57.8 105.7,59.3Z" fill="#56524f"/>
<path d="M230.7,-2.9 Q229.6,-0.4 226.0,-0.8 Q222.3,-1.2 221.0,-3.3 Q219.7,-5.4 222.3,-6.8 Q224.8,-8.1 227.1,-8.2 Q229.5,-8.2 230.6,-6.8 Q231.7,-5.3 230.7,-2.9Z" fill="#575350"/>
<path d="M107.8,63.9 Q105.7,63.5 104.1,62.0 Q102.5,60.4 103.1,58.8 Q103.7,57.3 106.1,57.3 Q108.5,57.3 110.5,59.2 Q112.5,61.0 111.2,62.6 Q109.9,64.2 107.8,63.9Z" fill="#888481"/>
<path d="M259.9,44.1 Q259.3,41.2 264.2,40.5 Q269.1,39.8 273.6,40.8 Q278.1,41.8 277.2,45.4 Q276.3,49.0 270.7,50.5 Q265.1,51.9 262.8,49.5 Q260.4,47.0 259.9,44.1Z" fill="#595552"/>
<path d="M117.2,133.7 Q113.8,132.7 114.4,130.5 Q115.0,128.4 118.0,126.0 Q120.9,123.6 123.0,125.0 Q125.0,126.5 125.8,129.4 Q126.7,132.3 123.6,133.5 Q120.5,134.8 117.2,133.7Z" fill="#504c49"/>
<path d="M262.6,62.0 Q261.1,65.3 257.8,66.9 Q254.4,68.4 249.3,65.4 Q244.1,62.3 245.3,59.9 Q246.5,57.5 250.8,56.4 Q255.2,55.2 259.7,56.9 Q264.2,58.6 262.6,62.0Z" fill="#817d7a"/>
<path d="M94.4,116.7 Q95.3,119.1 94.8,120.7 Q94.4,122.2 90.5,122.3 Q86.7,122.4 85.5,120.5 Q84.4,118.6 86.0,116.6 Q87.7,114.5 90.6,114.4 Q93.5,114.3 94.4,116.7Z" fill="#76726f"/>
<path d="M55.9,37.3 Q57.8,34.9 61.1,34.5 Q64.4,34.1 69.1,35.4 Q73.7,36.6 69.9,41.2 Q66.2,45.7 63.4,46.6 Q60.6,47.5 57.3,43.6 Q54.0,39.7 55.9,37.3Z" fill="#7a7673"/>
<path d="M34.0,79.1 Q34.9,75.7 37.1,75.0 Q39.3,74.3 42.7,75.8 Q46.2,77.4 46.3,80.2 Q46.4,83.0 42.5,84.3 Q38.6,85.6 35.9,84.0 Q33.1,82.4 34.0,79.1Z" fill="#6f6b68"/>
<path d="M118.8,88.2 Q123.7,87.7 126.4,91.1 Q129.2,94.5 126.7,96.8 Q124.3,99.1 120.7,98.6 Q117.2,98.2 114.5,97.0 Q111.8,95.7 112.9,92.3 Q113.9,88.8 118.8,88.2Z" fill="#5f5b58"/>
<path d="M164.1,16.9 Q163.8,14.9 164.4,13.4 Q165.1,12.0 168.7,12.5 Q172.4,13.0 175.0,15.0 Q177.5,17.1 175.5,18.7 Q173.4,20.3 168.9,19.6 Q164.4,18.9 164.1,16.9Z" fill="#888481"/>
<path d="M188.2,146.2 Q189.2,143.7 192.2,143.1 Q195.3,142.4 197.0,144.2 Q198.8,146.0 199.2,148.1 Q199.6,150.3 195.5,150.8 Q191.3,151.3 189.3,150.0 Q187.3,148.7 188.2,146.2Z" fill="#898582"/>
<path d="M274.3,1.9 Q277.0,4.2 275.8,6.6 Q274.7,9.0 270.1,10.1 Q265.5,11.3 262.1,8.0 Q258.7,4.6 261.7,2.4 Q264.7,0.1 268.1,-0.1 Q271.6,-0.4 274.3,1.9Z" fill="#65615e"/>
<path d="M219.8,42.8 Q215.7,44.0 213.3,41.3 Q211.0,38.6 213.0,35.5 Q214.9,32.4 219.0,32.0 Q223.1,31.7 224.8,34.2 Q226.4,36.6 225.2,39.0 Q224.0,41.5 219.8,42.8Z" fill="#736f6c"/>
<path d="M4.1,128.2 Q4.5,126.4 8.5,126.9 Q12.4,127.3 14.1,129.1 Q15.8,130.9 14.3,132.6 Q12.7,134.4 10.3,135.0 Q8.0,135.6 5.8,132.7 Q3.6,129.9 4.1,128.2Z" fill="#6a6663"/>
<path d="M37.8,35.0 Q36.0,36.7 32.8,36.1 Q29.5,35.5 28.2,33.9 Q26.9,32.2 28.9,30.3 Q30.8,28.4 33.9,28.5 Q37.1,28.5 38.3,30.9 Q39.5,33.3 37.8,35.0Z" fill="#7b7774"/>
<path d="M100.9,8.3 Q99.2,7.2 99.2,5.5 Q99.2,3.7 102.1,2.9 Q105.1,2.0 106.5,3.6 Q108.0,5.3 107.0,7.2 Q106.0,9.1 104.3,9.3 Q102.5,9.5 100.9,8.3Z" fill="#56524f"/>
<path d="M197.0,126.1 Q196.7,129.0 192.4,131.5 Q188.2,133.9 183.8,132.7 Q179.5,131.5 179.4,127.8 Q179.3,124.0 184.2,121.2 Q189.0,118.4 193.2,120.8 Q197.3,123.2 197.0,126.1Z" fill="#787471"/>
<path d="M14.6,138.1 Q18.5,138.7 20.3,140.5 Q22.1,142.4 19.7,143.8 Q17.2,145.3 14.3,145.8 Q11.4,146.3 9.0,143.4 Q6.7,140.5 8.7,139.0 Q10.8,137.6 14.6,138.1Z" fill="#84807d"/>
<path d="M84.1,103.7 Q86.3,103.7 88.1,105.8 Q89.9,107.9 88.2,109.7 Q86.4,111.5 83.4,112.0 Q80.3,112.5 78.9,109.5 Q77.5,106.5 79.7,105.0 Q81.9,103.6 84.1,103.7Z" fill="#56524f"/>
<path d="M248.4,65.0 Q253.0,64.6 254.1,67.0 Q255.2,69.4 252.8,71.4 Q250.5,73.5 247.4,74.6 Q244.3,75.7 242.4,72.2 Q240.5,68.8 242.1,67.1 Q243.8,65.3 248.4,65.0Z" fill="#878380"/>
<path d="M43.8,6.0 Q42.5,9.0 38.3,9.4 Q34.0,9.7 29.9,7.9 Q25.7,6.0 27.5,3.1 Q29.3,0.2 32.3,-0.8 Q35.2,-1.8 40.2,0.6 Q45.2,2.9 43.8,6.0Z" fill="#807c79"/>
<path d="M96.3,45.6 Q94.9,44.1 96.2,42.1 Q97.6,40.1 100.5,40.2 Q103.4,40.3 104.4,42.2 Q105.3,44.1 104.6,46.1 Q104.0,48.1 100.8,47.6 Q97.7,47.0 96.3,45.6Z" fill="#74706d"/>
<path d="M111.9,85.3 Q115.3,85.0 117.9,87.1 Q120.4,89.1 119.1,90.9 Q117.9,92.7 114.1,93.0 Q110.2,93.3 107.4,91.9 Q104.5,90.4 106.5,88.0 Q108.4,85.7 111.9,85.3Z" fill="#777370"/>
<path d="M87.2,69.6 Q91.1,71.1 91.9,73.7 Q92.7,76.4 88.1,77.5 Q83.5,78.7 80.8,78.4 Q78.1,78.1 77.0,74.7 Q75.9,71.3 79.6,69.7 Q83.3,68.2 87.2,69.6Z" fill="#524e4b"/>
<path d="M244.8,87.9 Q245.5,85.5 249.6,86.3 Q253.7,87.1 256.4,89.2 Q259.2,91.2 256.0,92.9 Q252.8,94.6 249.3,94.0 Q245.8,93.5 245.0,91.9 Q244.1,90.4 244.8,87.9Z" fill="#706c69"/>
<path d="M35.6,23.5 Q37.9,22.0 40.2,21.1 Q42.6,20.3 45.7,23.1 Q48.8,26.0 46.4,27.4 Q43.9,28.8 39.7,30.0 Q35.5,31.3 34.4,28.2 Q33.3,25.0 35.6,23.5Z" fill="#7c7875"/>
<path d="M199.8,37.9 Q201.7,38.3 202.7,40.3 Q203.6,42.3 200.9,43.8 Q198.1,45.2 196.4,44.5 Q194.6,43.9 194.4,41.8 Q194.2,39.8 196.0,38.7 Q197.9,37.5 199.8,37.9Z" fill="#524e4b"/>
<path d="M99.3,6.8 Q104.6,8.2 105.2,10.9 Q105.8,13.7 103.6,16.0 Q101.4,18.4 95.4,17.2 Q89.4,16.1 89.3,12.6 Q89.1,9.2 91.5,7.3 Q93.9,5.5 99.3,6.8Z" fill="#686461"/>
<path d="M198.6,117.9 Q195.0,118.5 193.0,117.9 Q191.0,117.4 190.4,114.3 Q189.8,111.3 193.2,110.4 Q196.6,109.6 199.2,111.1 Q201.9,112.6 202.1,114.9 Q202.2,117.3 198.6,117.9Z" fill="#6c6865"/>
<path d="M36.0,147.9 Q35.6,145.0 39.5,144.7 Q43.4,144.3 46.4,145.2 Q49.3,146.1 48.6,149.2 Q47.9,152.2 44.4,152.3 Q41.0,152.4 38.7,151.6 Q36.4,150.8 36.0,147.9Z" fill="#7a7673"/>
<path d="M198.4,147.7 Q198.7,150.1 191.4,150.7 Q184.0,151.3 182.8,148.1 Q181.6,144.9 182.9,141.9 Q184.2,138.9 188.8,139.9 Q193.4,140.8 195.7,143.0 Q198.0,145.2 198.4,147.7Z" fill="#6e6a67"/>
<path d="M217.6,24.1 Q217.4,22.2 219.7,22.1 Q221.9,22.1 223.9,23.0 Q225.8,23.8 225.1,25.1 Q224.4,26.5 222.6,27.3 Q220.8,28.1 219.3,27.1 Q217.8,26.1 217.6,24.1Z" fill="#676360"/>
<path d="M122.1,156.3 Q115.3,155.8 115.5,152.6 Q115.8,149.4 119.0,146.3 Q122.1,143.3 127.1,144.7 Q132.1,146.1 132.6,148.5 Q133.0,150.9 131.0,153.9 Q129.0,156.8 122.1,156.3Z" fill="#66625f"/>
<path d="M167.4,16.0 Q164.3,17.0 162.8,15.6 Q161.3,14.1 161.8,12.6 Q162.2,11.0 163.8,9.4 Q165.3,7.8 167.6,9.3 Q169.9,10.9 170.2,12.9 Q170.4,14.9 167.4,16.0Z" fill="#8e8a87"/>
<path d="M81.9,79.8 Q82.6,80.8 80.7,83.6 Q78.9,86.4 76.8,85.9 Q74.8,85.4 72.7,83.0 Q70.7,80.6 72.9,79.4 Q75.1,78.2 78.1,78.5 Q81.2,78.7 81.9,79.8Z" fill="#787471"/>
<path d="M249.8,74.3 Q251.9,75.8 251.2,77.1 Q250.4,78.4 248.6,79.5 Q246.9,80.5 243.8,79.7 Q240.8,78.9 241.0,77.0 Q241.3,75.0 244.5,73.9 Q247.7,72.7 249.8,74.3Z" fill="#575350"/>
<path d="M9.2,72.0 Q6.2,71.8 5.2,68.4 Q4.2,65.0 6.9,64.1 Q9.7,63.1 13.3,64.5 Q17.0,65.9 16.9,67.8 Q16.9,69.7 14.6,70.9 Q12.3,72.1 9.2,72.0Z" fill="#75716e"/>
<path d="M169.6,25.8 Q168.9,27.8 164.9,27.4 Q160.9,27.1 159.5,25.0 Q158.0,22.9 160.4,21.3 Q162.8,19.7 166.3,19.8 Q169.7,20.0 170.1,21.9 Q170.4,23.9 169.6,25.8Z" fill="#5b5754"/>
<path d="M102.9,142.7 Q106.1,142.7 107.1,143.7 Q108.2,144.7 107.5,146.9 Q106.9,149.1 104.3,149.2 Q101.8,149.4 100.6,147.7 Q99.4,146.0 99.5,144.4 Q99.6,142.8 102.9,142.7Z" fill="#5c5855"/>
<path d="M66.5,-5.6 Q66.4,-3.2 63.6,-0.3 Q60.9,2.7 56.5,1.7 Q52.1,0.8 51.6,-1.6 Q51.0,-4.0 53.1,-5.9 Q55.2,-7.7 60.9,-7.9 Q66.5,-8.1 66.5,-5.6Z" fill="#75716e"/>
<path d="M118.9,98.0 Q116.7,96.6 117.5,95.0 Q118.2,93.4 121.1,92.3 Q124.0,91.1 124.9,92.8 Q125.9,94.4 125.8,96.2 Q125.6,97.9 123.3,98.6 Q121.0,99.4 118.9,98.0Z" fill="#7e7a77"/>
<path d="M253.5,130.7 Q256.0,133.4 254.5,135.6 Q252.9,137.8 250.4,138.3 Q247.8,138.8 244.5,137.4 Q241.2,136.0 242.2,133.1 Q243.2,130.2 247.1,129.1 Q251.0,127.9 253.5,130.7Z" fill="#837f7c"/>
<path d="M-1.0,76.4 Q-2.7,74.9 -0.0,73.1 Q2.7,71.3 4.8,72.2 Q7.0,73.2 7.6,75.0 Q8.1,76.7 7.2,78.0 Q6.3,79.4 3.5,78.7 Q0.7,78.0 -1.0,76.4Z" fill="#5e5a57"/>
<path d="M189.2,96.4 Q186.9,95.9 186.1,94.7 Q185.3,93.5 187.9,92.3 Q190.4,91.1 192.4,91.2 Q194.3,91.4 194.7,93.1 Q195.1,94.8 193.3,95.9 Q191.4,96.9 189.2,96.4Z" fill="#706c69"/>
<path d="M57.7,107.0 Q53.0,104.7 56.3,101.7 Q59.6,98.7 62.2,97.0 Q64.8,95.4 69.7,97.8 Q74.7,100.3 72.7,103.6 Q70.6,106.8 66.5,108.1 Q62.5,109.4 57.7,107.0Z" fill="#5e5a57"/>
<path d="M157.7,141.1 Q154.0,142.8 150.8,140.6 Q147.6,138.4 147.3,133.9 Q147.0,129.3 152.2,129.5 Q157.4,129.6 161.4,130.7 Q165.4,131.8 163.4,135.6 Q161.3,139.4 157.7,141.1Z" fill="#8d8986"/>
<path d="M141.3,114.7 Q140.1,117.2 138.0,117.8 Q135.9,118.4 133.3,116.9 Q130.7,115.3 131.8,113.3 Q133.0,111.3 134.7,110.9 Q136.5,110.5 139.5,111.3 Q142.4,112.2 141.3,114.7Z" fill="#7a7673"/>
<path d="M224.1,-8.7 Q228.4,-7.3 226.3,-4.6 Q224.3,-1.9 219.5,1.0 Q214.8,3.9 212.6,1.3 Q210.4,-1.2 209.5,-5.1 Q208.6,-8.9 214.2,-9.6 Q219.8,-10.2 224.1,-8.7Z" fill="#74706d"/>
<path d="M77.6,81.4 Q73.0,82.3 69.7,82.4 Q66.5,82.4 66.6,78.7 Q66.7,74.9 69.5,74.3 Q72.3,73.6 77.1,74.7 Q82.0,75.7 82.1,78.1 Q82.2,80.4 77.6,81.4Z" fill="#585451"/>
<path d="M138.2,100.1 Q140.0,101.0 139.8,103.1 Q139.7,105.2 136.5,107.0 Q133.2,108.7 131.6,107.9 Q130.1,107.2 130.3,104.4 Q130.4,101.6 133.4,100.4 Q136.3,99.1 138.2,100.1Z" fill="#74706d"/>
<path d="M32.3,39.1 Q30.0,40.3 26.0,39.7 Q22.1,39.2 21.2,36.7 Q20.3,34.2 23.0,31.9 Q25.6,29.5 30.2,30.4 Q34.8,31.2 34.7,34.5 Q34.6,37.8 32.3,39.1Z" fill="#65615e"/>
<path d="M206.0,70.1 Q208.8,70.9 208.2,73.4 Q207.6,75.8 205.1,76.0 Q202.7,76.1 199.4,74.6 Q196.0,73.0 197.6,71.5 Q199.1,70.0 201.2,69.6 Q203.2,69.2 206.0,70.1Z" fill="#7e7a77"/>
<path d="M114.2,35.0 Q112.8,33.2 113.9,31.3 Q115.1,29.4 119.0,29.1 Q122.9,28.8 123.1,31.0 Q123.4,33.3 122.6,34.5 Q121.8,35.7 118.7,36.2 Q115.6,36.8 114.2,35.0Z" fill="#706c69"/>
<path d="M104.2,24.6 Q99.4,26.6 94.4,25.7 Q89.4,24.9 88.6,21.8 Q87.8,18.8 92.3,17.0 Q96.9,15.2 101.2,16.3 Q105.4,17.4 107.2,20.0 Q109.1,22.6 104.2,24.6Z" fill="#635f5c"/>
<path d="M119.9,29.6 Q118.7,31.6 114.3,31.2 Q109.9,30.8 109.7,29.3 Q109.5,27.9 110.3,25.7 Q111.1,23.6 115.0,23.3 Q119.0,23.0 120.0,25.3 Q121.1,27.6 119.9,29.6Z" fill="#84807d"/>
<path d="M138.8,1.4 Q136.1,1.9 134.7,1.1 Q133.2,0.3 133.6,-2.1 Q134.0,-4.4 135.7,-5.0 Q137.4,-5.6 139.3,-4.3 Q141.1,-3.0 141.3,-1.1 Q141.5,0.8 138.8,1.4Z" fill="#8a8683"/>
<path d="M251.6,123.7 Q252.8,125.7 251.2,127.3 Q249.7,128.9 245.4,129.1 Q241.1,129.3 241.5,127.2 Q241.9,125.2 242.6,123.0 Q243.4,120.8 246.9,121.2 Q250.3,121.6 251.6,123.7Z" fill="#625e5b"/>
<path d="M237.0,50.2 Q242.2,49.0 247.0,51.7 Q251.8,54.5 249.4,58.5 Q247.1,62.6 242.0,62.7 Q236.9,62.9 233.9,60.1 Q230.9,57.3 231.3,54.3 Q231.8,51.3 237.0,50.2Z" fill="#75716e"/>
<path d="M246.0,14.3 Q243.8,18.3 239.8,18.6 Q235.7,18.8 231.1,16.2 Q226.5,13.6 230.0,10.9 Q233.5,8.3 237.1,6.9 Q240.7,5.6 244.4,7.9 Q248.1,10.2 246.0,14.3Z" fill="#5d5956"/>
<path d="M30.5,8.7 Q27.6,7.0 28.4,5.5 Q29.2,4.1 32.1,2.4 Q35.1,0.8 37.2,2.4 Q39.3,4.1 39.3,6.0 Q39.3,8.0 36.3,9.2 Q33.4,10.5 30.5,8.7Z" fill="#534f4c"/>
<path d="M80.2,75.6 Q76.6,78.4 73.0,77.2 Q69.3,75.9 66.8,74.2 Q64.3,72.4 65.0,69.4 Q65.6,66.3 71.0,66.5 Q76.3,66.7 80.0,69.8 Q83.7,72.8 80.2,75.6Z" fill="#55514e"/>
<path d="M9.0,27.7 Q5.3,28.7 2.0,28.5 Q-1.3,28.2 -1.0,25.9 Q-0.7,23.6 1.5,21.9 Q3.8,20.1 7.3,21.5 Q10.9,22.9 11.8,24.8 Q12.8,26.6 9.0,27.7Z" fill="#827e7b"/>
<path d="M74.6,47.5 Q71.8,46.2 72.7,43.8 Q73.7,41.3 77.5,40.6 Q81.3,39.8 83.4,41.5 Q85.6,43.2 85.2,46.1 Q84.7,49.1 81.0,48.9 Q77.3,48.8 74.6,47.5Z" fill="#6d6966"/>
<path d="M181.7,55.6 Q181.7,60.0 178.4,61.3 Q175.2,62.6 169.1,60.0 Q163.1,57.5 162.5,54.5 Q161.9,51.5 167.3,48.9 Q172.7,46.3 177.2,48.8 Q181.7,51.2 181.7,55.6Z" fill="#777370"/>
<path d="M95.9,142.0 Q99.3,141.4 103.8,143.5 Q108.2,145.6 106.1,149.8 Q104.1,154.0 99.0,153.1 Q93.9,152.3 92.1,150.9 Q90.3,149.5 91.4,146.0 Q92.5,142.5 95.9,142.0Z" fill="#676360"/>
<path d="M37.9,112.4 Q41.3,113.0 43.8,114.9 Q46.4,116.8 44.0,119.2 Q41.7,121.6 37.2,121.8 Q32.7,122.0 30.2,118.3 Q27.7,114.5 31.1,113.1 Q34.5,111.7 37.9,112.4Z" fill="#7d7976"/>
<path d="M153.9,99.6 Q156.9,98.9 159.4,100.8 Q161.9,102.7 162.1,104.5 Q162.3,106.3 157.1,107.5 Q151.9,108.7 149.8,106.6 Q147.7,104.5 149.3,102.4 Q151.0,100.3 153.9,99.6Z" fill="#5d5956"/>
<path d="M212.0,-5.7 Q214.6,-4.4 213.5,-1.0 Q212.5,2.5 208.4,2.9 Q204.3,3.3 200.0,2.0 Q195.6,0.6 197.8,-3.3 Q199.9,-7.1 204.7,-7.1 Q209.5,-7.1 212.0,-5.7Z" fill="#504c49"/>
<path d="M236.4,-9.2 Q239.2,-8.5 241.2,-7.0 Q243.2,-5.5 241.2,-3.3 Q239.3,-1.1 236.2,-1.4 Q233.0,-1.7 232.0,-3.6 Q230.9,-5.5 232.3,-7.7 Q233.7,-9.9 236.4,-9.2Z" fill="#74706d"/>
<path d="M264.0,65.7 Q262.0,65.0 260.9,63.1 Q259.8,61.2 262.5,59.7 Q265.3,58.2 267.5,59.6 Q269.8,60.9 269.6,61.9 Q269.4,62.9 267.7,64.7 Q266.0,66.4 264.0,65.7Z" fill="#56524f"/>
<path d="M-7.2,47.4 Q-10.8,46.5 -10.5,44.6 Q-10.3,42.7 -8.4,40.4 Q-6.4,38.1 -2.2,39.0 Q2.1,39.9 1.7,42.7 Q1.2,45.4 -1.2,46.9 Q-3.6,48.4 -7.2,47.4Z" fill="#7f7b78"/>
<path d="M216.9,129.1 Q212.9,131.1 210.3,128.6 Q207.7,126.2 206.2,124.0 Q204.7,121.8 208.7,119.4 Q212.8,117.0 217.4,119.3 Q222.1,121.6 221.4,124.4 Q220.8,127.1 216.9,129.1Z" fill="#8d8986"/>
<path d="M41.2,136.2 Q42.6,137.7 40.4,139.4 Q38.3,141.1 36.2,140.8 Q34.1,140.5 32.6,138.6 Q31.1,136.6 33.0,135.4 Q35.0,134.2 37.4,134.5 Q39.8,134.8 41.2,136.2Z" fill="#888481"/>
<path d="M12.2,42.7 Q7.6,44.7 4.0,43.7 Q0.4,42.8 0.2,39.7 Q0.1,36.7 3.0,35.4 Q5.9,34.2 9.7,34.3 Q13.5,34.4 15.2,37.5 Q16.9,40.7 12.2,42.7Z" fill="#6e6a67"/>
<path d="M105.2,51.0 Q107.8,54.5 103.5,56.7 Q99.1,58.9 95.2,58.9 Q91.4,58.9 89.3,55.9 Q87.3,52.9 90.9,50.3 Q94.6,47.7 98.6,47.6 Q102.6,47.5 105.2,51.0Z" fill="#716d6a"/>
<path d="M118.9,0.9 Q118.9,-2.2 121.7,-2.7 Q124.6,-3.1 127.0,-1.1 Q129.4,0.8 129.8,2.8 Q130.2,4.7 126.3,6.1 Q122.4,7.4 120.7,5.7 Q119.0,4.1 118.9,0.9Z" fill="#85817e"/>
<path d="M179.5,90.2 Q182.5,89.3 184.4,89.9 Q186.3,90.5 186.6,92.9 Q186.9,95.3 185.1,96.5 Q183.2,97.7 179.7,96.4 Q176.3,95.0 176.4,93.0 Q176.5,91.1 179.5,90.2Z" fill="#706c69"/>
<path d="M66.7,63.8 Q68.6,61.0 71.5,60.6 Q74.3,60.2 77.4,62.6 Q80.6,65.0 78.3,67.7 Q76.0,70.3 72.1,69.6 Q68.1,68.9 66.4,67.7 Q64.7,66.6 66.7,63.8Z" fill="#605c59"/>
<path d="M152.3,3.6 Q148.2,2.3 149.3,-0.7 Q150.4,-3.6 153.6,-4.1 Q156.8,-4.5 159.7,-3.3 Q162.7,-2.0 163.3,0.1 Q163.8,2.2 160.2,3.6 Q156.5,5.0 152.3,3.6Z" fill="#605c59"/>
<path d="M-11.6,74.1 Q-8.1,72.8 -4.5,74.1 Q-0.9,75.3 -2.0,77.4 Q-3.1,79.5 -5.4,81.2 Q-7.6,82.9 -11.4,81.4 Q-15.1,80.0 -15.1,77.7 Q-15.0,75.3 -11.6,74.1Z" fill="#5e5a57"/>
<path d="M92.2,63.4 Q88.8,66.0 85.4,64.2 Q82.0,62.4 80.8,60.7 Q79.5,59.0 80.8,55.9 Q82.1,52.8 87.9,54.3 Q93.7,55.9 94.6,58.3 Q95.5,60.7 92.2,63.4Z" fill="#74706d"/>
<path d="M106.7,143.8 Q102.8,143.5 100.3,140.2 Q97.7,136.9 100.7,133.8 Q103.8,130.8 110.0,131.2 Q116.3,131.6 116.7,134.6 Q117.0,137.5 113.8,140.8 Q110.7,144.1 106.7,143.8Z" fill="#7d7976"/>
<path d="M210.3,3.5 Q214.4,3.7 214.6,6.1 Q214.8,8.5 211.1,10.6 Q207.5,12.6 205.0,12.2 Q202.5,11.9 201.3,9.1 Q200.1,6.4 203.1,4.8 Q206.1,3.2 210.3,3.5Z" fill="#827e7b"/>
<path d="M179.3,26.2 Q178.7,28.8 176.7,30.2 Q174.6,31.7 170.7,29.8 Q166.7,28.0 166.1,24.7 Q165.5,21.4 169.5,20.1 Q173.5,18.7 176.6,21.2 Q179.8,23.6 179.3,26.2Z" fill="#777370"/>
<path d="M120.1,138.9 Q122.3,137.5 124.8,138.5 Q127.3,139.5 129.2,141.6 Q131.2,143.7 127.4,145.4 Q123.5,147.2 120.2,145.5 Q117.0,143.8 117.4,142.0 Q117.9,140.2 120.1,138.9Z" fill="#5d5956"/>
<path d="M29.0,33.1 Q27.2,30.1 29.9,28.7 Q32.5,27.4 36.3,28.4 Q40.1,29.4 40.5,31.5 Q41.0,33.5 39.1,35.4 Q37.2,37.3 34.0,36.7 Q30.7,36.1 29.0,33.1Z" fill="#8c8885"/>
<path d="M230.2,91.0 Q232.0,93.3 230.8,96.4 Q229.5,99.5 223.9,98.6 Q218.3,97.6 215.7,96.3 Q213.0,95.0 215.7,92.1 Q218.4,89.1 223.4,88.9 Q228.4,88.7 230.2,91.0Z" fill="#575350"/>
<path d="M144.0,83.9 Q145.5,80.8 149.7,79.3 Q153.9,77.9 157.9,79.2 Q161.9,80.6 160.8,84.1 Q159.6,87.7 155.0,88.2 Q150.3,88.7 146.4,87.8 Q142.5,87.0 144.0,83.9Z" fill="#6b6764"/>
<path d="M43.5,144.5 Q46.9,142.9 49.4,142.1 Q51.9,141.2 54.3,143.7 Q56.6,146.3 55.6,148.8 Q54.6,151.3 50.0,151.1 Q45.5,150.9 42.7,148.5 Q40.0,146.2 43.5,144.5Z" fill="#524e4b"/>
<path d="M120.4,129.6 Q119.3,127.1 125.3,124.5 Q131.3,121.9 134.5,123.3 Q137.7,124.8 138.0,127.9 Q138.4,131.0 134.6,133.4 Q130.8,135.7 126.1,133.9 Q121.4,132.1 120.4,129.6Z" fill="#686461"/>
<path d="M107.0,13.7 Q102.9,13.4 102.8,9.7 Q102.7,5.9 104.3,4.3 Q105.8,2.6 111.0,3.7 Q116.3,4.8 118.0,7.3 Q119.7,9.8 115.4,11.9 Q111.0,14.1 107.0,13.7Z" fill="#8b8784"/>
<path d="M163.8,-5.8 Q168.1,-6.3 171.0,-5.7 Q173.9,-5.2 174.8,-1.6 Q175.7,1.9 172.4,3.4 Q169.0,4.8 166.0,2.9 Q163.0,1.1 161.3,-2.1 Q159.6,-5.3 163.8,-5.8Z" fill="#74706d"/>
<path d="M192.2,35.3 Q195.7,33.3 198.9,34.7 Q202.0,36.2 203.1,39.5 Q204.2,42.8 201.6,44.5 Q199.0,46.1 193.6,44.3 Q188.1,42.5 188.4,39.9 Q188.6,37.3 192.2,35.3Z" fill="#5b5754"/>
<path d="M34.0,108.8 Q28.6,111.7 25.3,110.1 Q21.9,108.6 20.3,104.9 Q18.8,101.2 23.7,99.2 Q28.7,97.1 33.6,98.5 Q38.6,99.8 39.0,102.9 Q39.4,105.9 34.0,108.8Z" fill="#817d7a"/>
<path d="M241.8,70.8 Q243.9,71.6 243.4,73.5 Q243.0,75.5 240.7,76.4 Q238.4,77.4 236.1,76.0 Q233.7,74.6 233.5,72.9 Q233.2,71.3 236.4,70.6 Q239.6,70.0 241.8,70.8Z" fill="#878380"/>
<path d="M138.6,57.1 Q142.2,55.4 146.4,56.5 Q150.5,57.6 151.7,60.2 Q152.8,62.7 150.2,65.7 Q147.5,68.6 141.6,68.3 Q135.7,67.9 135.3,63.4 Q135.0,58.9 138.6,57.1Z" fill="#64605d"/>
<path d="M225.9,98.9 Q222.1,96.5 223.6,93.6 Q225.1,90.8 227.9,89.3 Q230.8,87.8 234.8,91.0 Q238.7,94.1 238.1,96.3 Q237.4,98.5 233.5,99.9 Q229.6,101.3 225.9,98.9Z" fill="#64605d"/>
<path d="M168.7,123.6 Q171.6,122.3 174.7,124.0 Q177.8,125.8 178.6,127.6 Q179.5,129.4 176.0,130.6 Q172.6,131.8 169.6,130.6 Q166.5,129.5 166.1,127.3 Q165.8,125.0 168.7,123.6Z" fill="#716d6a"/>
<path d="M207.6,1.2 Q209.8,1.9 209.7,3.7 Q209.6,5.4 207.2,5.8 Q204.9,6.3 202.8,5.6 Q200.8,4.9 200.4,2.9 Q200.0,0.9 202.8,0.7 Q205.5,0.6 207.6,1.2Z" fill="#74706d"/>
<path d="M54.4,112.6 Q51.6,115.0 49.1,114.6 Q46.6,114.1 43.4,111.8 Q40.1,109.5 44.5,106.0 Q48.9,102.6 51.9,102.6 Q54.8,102.6 56.0,106.4 Q57.2,110.1 54.4,112.6Z" fill="#605c59"/>
<path d="M52.0,12.0 Q51.1,14.2 48.1,14.2 Q45.2,14.1 43.2,12.7 Q41.3,11.3 42.2,9.7 Q43.1,8.1 45.1,7.7 Q47.2,7.3 50.1,8.6 Q52.9,9.9 52.0,12.0Z" fill="#8e8a87"/>
<path d="M214.0,20.5 Q214.8,17.1 217.9,15.4 Q221.1,13.8 225.6,16.8 Q230.0,19.9 229.5,21.7 Q228.9,23.5 224.5,24.7 Q220.2,25.9 216.8,24.9 Q213.3,23.9 214.0,20.5Z" fill="#5d5956"/>
<path d="M38.7,14.6 Q37.7,10.8 42.6,8.6 Q47.5,6.5 52.6,7.8 Q57.7,9.2 57.1,12.1 Q56.4,15.0 52.4,17.7 Q48.4,20.5 44.1,19.4 Q39.7,18.3 38.7,14.6Z" fill="#6a6663"/>
<path d="M3.1,57.7 Q4.7,60.5 1.6,62.2 Q-1.6,63.9 -4.9,63.3 Q-8.3,62.7 -8.6,61.2 Q-9.0,59.6 -6.6,57.1 Q-4.3,54.5 -1.4,54.7 Q1.5,54.9 3.1,57.7Z" fill="#56524f"/>
<path d="M58.5,113.1 Q61.1,111.1 63.9,110.7 Q66.8,110.3 68.5,112.9 Q70.1,115.5 67.5,117.3 Q64.8,119.1 61.2,119.0 Q57.5,118.8 56.7,117.0 Q55.9,115.1 58.5,113.1Z" fill="#686461"/>
<path d="M36.3,64.3 Q39.8,62.7 43.1,66.4 Q46.3,70.0 46.6,73.0 Q47.0,76.0 41.8,76.6 Q36.6,77.1 33.5,75.9 Q30.4,74.7 31.6,70.3 Q32.9,65.9 36.3,64.3Z" fill="#64605d"/>
<path d="M26.8,82.4 Q22.7,82.9 19.9,79.5 Q17.1,76.2 19.3,73.0 Q21.5,69.7 24.9,70.3 Q28.4,70.9 32.3,73.1 Q36.2,75.3 33.6,78.6 Q31.0,81.9 26.8,82.4Z" fill="#514d4a"/>
<path d="M196.8,103.2 Q196.7,106.3 194.2,107.7 Q191.6,109.1 187.3,107.3 Q182.9,105.5 184.1,103.6 Q185.2,101.7 188.3,99.4 Q191.3,97.2 194.1,98.6 Q196.9,100.1 196.8,103.2Z" fill="#6d6966"/>
<path d="M56.0,34.2 Q56.3,33.2 58.6,32.5 Q60.9,31.8 63.4,32.9 Q66.0,34.1 65.6,35.3 Q65.3,36.6 61.7,37.5 Q58.1,38.5 56.9,36.9 Q55.7,35.3 56.0,34.2Z" fill="#7e7a77"/>
<path d="M181.3,17.4 Q177.9,18.0 173.5,14.8 Q169.1,11.7 171.6,8.2 Q174.2,4.8 179.5,5.3 Q184.7,5.9 187.4,8.0 Q190.1,10.0 187.4,13.4 Q184.7,16.7 181.3,17.4Z" fill="#817d7a"/>
<path d="M214.3,38.9 Q212.0,38.0 212.9,36.3 Q213.7,34.7 215.6,33.3 Q217.5,31.9 220.1,33.0 Q222.8,34.2 222.9,35.7 Q222.9,37.2 219.7,38.5 Q216.5,39.9 214.3,38.9Z" fill="#5a5653"/>
<path d="M110.4,154.3 Q107.1,153.5 106.5,151.4 Q105.9,149.4 108.1,147.5 Q110.3,145.6 113.2,146.4 Q116.0,147.3 116.6,149.6 Q117.2,151.8 115.4,153.4 Q113.7,155.1 110.4,154.3Z" fill="#8c8885"/>
<path d="M107.2,123.3 Q109.5,124.9 106.9,128.5 Q104.2,132.1 101.3,132.0 Q98.3,132.0 94.4,129.0 Q90.5,126.0 92.9,123.3 Q95.3,120.7 100.0,121.2 Q104.8,121.7 107.2,123.3Z" fill="#74706d"/>
<path d="M10.1,45.9 Q9.2,43.5 11.1,42.7 Q13.0,41.9 16.3,42.4 Q19.6,42.9 20.3,44.9 Q21.0,46.9 18.3,47.8 Q15.6,48.6 13.3,48.5 Q11.0,48.3 10.1,45.9Z" fill="#837f7c"/>
<path d="M206.4,143.3 Q205.3,145.8 201.5,145.8 Q197.7,145.8 193.7,144.5 Q189.7,143.1 192.3,140.5 Q194.9,137.8 198.3,137.5 Q201.6,137.2 204.5,138.9 Q207.4,140.7 206.4,143.3Z" fill="#716d6a"/>
<path d="M102.5,54.0 Q101.6,55.5 98.7,55.3 Q95.7,55.0 95.0,54.2 Q94.3,53.4 94.7,51.4 Q95.1,49.4 97.8,49.3 Q100.6,49.3 102.0,50.9 Q103.4,52.6 102.5,54.0Z" fill="#605c59"/>
<path d="M121.6,116.0 Q123.5,113.5 125.7,113.5 Q127.9,113.6 129.5,115.6 Q131.1,117.6 129.6,119.6 Q128.1,121.6 124.3,121.4 Q120.5,121.3 120.1,119.9 Q119.7,118.4 121.6,116.0Z" fill="#8d8986"/>
<path d="M172.7,85.8 Q167.9,86.1 166.3,81.7 Q164.6,77.4 166.4,75.2 Q168.2,73.0 173.5,74.5 Q178.7,75.9 180.8,79.1 Q182.9,82.4 180.2,84.0 Q177.5,85.6 172.7,85.8Z" fill="#65615e"/>
<path d="M98.7,76.8 Q102.7,77.8 103.5,81.0 Q104.4,84.1 102.0,85.4 Q99.7,86.7 96.1,85.9 Q92.4,85.2 90.0,82.6 Q87.6,80.1 91.2,77.9 Q94.8,75.8 98.7,76.8Z" fill="#6c6865"/>
<path d="M119.8,90.6 Q120.8,88.4 123.5,85.7 Q126.2,83.0 130.5,85.4 Q134.8,87.8 133.6,90.7 Q132.3,93.6 129.0,95.2 Q125.7,96.9 122.2,94.9 Q118.7,92.8 119.8,90.6Z" fill="#898582"/>
<path d="M34.1,88.4 Q36.9,87.2 38.2,89.7 Q39.5,92.3 39.0,94.2 Q38.5,96.1 35.2,96.6 Q31.9,97.1 30.2,95.2 Q28.4,93.4 29.9,91.4 Q31.4,89.5 34.1,88.4Z" fill="#74706d"/>
<path d="M11.1,82.3 Q13.9,86.8 9.6,88.6 Q5.4,90.3 1.3,88.9 Q-2.9,87.6 -4.1,83.7 Q-5.3,79.8 -1.5,77.0 Q2.3,74.1 5.3,75.9 Q8.3,77.8 11.1,82.3Z" fill="#5c5855"/>
<path d="M19.2,135.1 Q18.0,133.8 19.2,132.3 Q20.3,130.9 22.2,130.9 Q24.2,130.9 25.4,132.6 Q26.7,134.2 25.8,135.5 Q24.8,136.9 22.6,136.6 Q20.4,136.4 19.2,135.1Z" fill="#736f6c"/>
<path d="M192.8,102.4 Q192.0,104.5 187.5,104.7 Q183.0,104.8 181.7,102.4 Q180.3,100.0 182.1,98.2 Q184.0,96.4 186.8,95.4 Q189.6,94.5 191.6,97.4 Q193.7,100.4 192.8,102.4Z" fill="#86827f"/>
<path d="M59.4,114.8 Q61.5,112.3 65.0,110.6 Q68.4,108.8 73.5,111.4 Q78.5,114.0 76.1,116.5 Q73.7,119.0 69.6,120.0 Q65.6,121.0 61.4,119.1 Q57.3,117.2 59.4,114.8Z" fill="#605c59"/>
<path d="M177.6,61.3 Q178.0,59.2 179.8,58.9 Q181.5,58.6 184.3,59.3 Q187.2,60.1 186.2,62.4 Q185.3,64.7 182.0,65.2 Q178.6,65.8 177.9,64.6 Q177.2,63.5 177.6,61.3Z" fill="#86827f"/>
<path d="M8.6,107.4 Q4.3,104.8 4.3,101.8 Q4.2,98.8 9.8,97.8 Q15.3,96.8 17.6,98.2 Q20.0,99.5 19.8,102.1 Q19.6,104.7 16.2,107.4 Q12.8,110.0 8.6,107.4Z" fill="#827e7b"/>
<path d="M54.4,35.8 Q54.0,37.7 50.8,38.7 Q47.5,39.8 45.9,38.2 Q44.3,36.5 45.0,34.9 Q45.7,33.2 48.0,32.7 Q50.4,32.3 52.6,33.1 Q54.8,33.8 54.4,35.8Z" fill="#595552"/>
<path d="M75.8,13.8 Q78.7,13.2 80.0,15.7 Q81.2,18.1 79.1,20.8 Q77.0,23.5 74.5,22.1 Q72.1,20.7 70.2,18.5 Q68.4,16.3 70.7,15.3 Q73.0,14.3 75.8,13.8Z" fill="#514d4a"/>
<path d="M49.3,76.9 Q48.0,79.5 45.5,80.0 Q43.0,80.6 40.6,78.6 Q38.2,76.7 38.6,74.7 Q39.0,72.7 41.7,71.6 Q44.3,70.5 47.4,72.4 Q50.5,74.3 49.3,76.9Z" fill="#84807d"/>
<path d="M181.7,99.9 Q182.1,102.0 180.0,102.3 Q177.9,102.7 176.1,102.1 Q174.3,101.5 173.7,99.7 Q173.1,97.8 175.4,97.1 Q177.7,96.3 179.5,97.1 Q181.4,97.9 181.7,99.9Z" fill="#8e8a87"/>
<path d="M-2.5,14.4 Q2.7,14.4 2.5,17.2 Q2.2,20.0 0.7,23.2 Q-0.8,26.4 -6.1,24.1 Q-11.4,21.9 -11.9,20.3 Q-12.5,18.7 -10.1,16.5 Q-7.6,14.4 -2.5,14.4Z" fill="#84807d"/>
<path d="M234.1,157.6 Q229.8,157.5 227.2,154.3 Q224.6,151.1 227.7,147.8 Q230.9,144.5 237.7,145.7 Q244.5,146.8 244.6,149.3 Q244.6,151.7 241.5,154.7 Q238.4,157.7 234.1,157.6Z" fill="#837f7c"/>
<path d="M135.8,119.9 Q132.3,120.3 129.6,117.9 Q127.0,115.5 129.2,114.2 Q131.3,112.9 134.5,112.4 Q137.7,111.9 140.2,114.2 Q142.6,116.6 140.9,118.0 Q139.2,119.5 135.8,119.9Z" fill="#86827f"/>
<path d="M263.4,26.6 Q260.6,29.5 255.1,27.5 Q249.5,25.5 248.4,22.6 Q247.3,19.8 251.9,18.0 Q256.6,16.2 260.2,16.7 Q263.9,17.2 265.1,20.4 Q266.2,23.7 263.4,26.6Z" fill="#615d5a"/>
<path d="M6.6,23.6 Q8.8,24.7 8.8,26.1 Q8.8,27.4 6.4,29.1 Q4.0,30.8 0.4,29.4 Q-3.1,28.1 -2.1,26.2 Q-1.2,24.4 1.7,23.4 Q4.5,22.5 6.6,23.6Z" fill="#5b5754"/>
<path d="M85.7,115.3 Q88.2,116.9 88.0,117.9 Q87.8,119.0 86.1,120.6 Q84.3,122.2 82.2,120.5 Q80.1,118.7 79.5,117.7 Q78.9,116.7 81.0,115.2 Q83.1,113.7 85.7,115.3Z" fill="#6d6966"/>
<path d="M127.1,149.2 Q121.2,150.3 119.6,146.8 Q118.1,143.3 121.0,141.4 Q123.9,139.4 129.0,138.3 Q134.2,137.2 135.1,140.4 Q136.0,143.5 134.5,145.8 Q133.0,148.0 127.1,149.2Z" fill="#7f7b78"/>
<path d="M245.4,65.6 Q242.8,65.7 240.6,64.8 Q238.3,63.8 239.0,61.0 Q239.6,58.1 243.7,57.5 Q247.9,56.8 249.5,58.5 Q251.2,60.2 249.5,62.9 Q247.9,65.6 245.4,65.6Z" fill="#615d5a"/>
<path d="M209.7,20.2 Q212.5,17.9 217.2,18.2 Q222.0,18.5 224.3,21.4 Q226.7,24.3 224.8,26.7 Q222.9,29.1 217.4,30.0 Q211.9,30.8 209.4,26.7 Q207.0,22.6 209.7,20.2Z" fill="#6c6865"/>
<path d="M-3.5,28.5 Q-1.8,26.1 3.2,25.5 Q8.1,24.9 10.2,27.5 Q12.2,30.1 11.0,32.5 Q9.9,35.0 5.4,36.1 Q0.9,37.3 -2.2,34.1 Q-5.3,30.8 -3.5,28.5Z" fill="#8a8683"/>
<path d="M154.9,143.4 Q153.4,141.6 154.0,137.2 Q154.6,132.9 158.0,133.6 Q161.5,134.3 164.8,136.1 Q168.2,137.9 166.5,140.8 Q164.9,143.7 160.6,144.5 Q156.4,145.3 154.9,143.4Z" fill="#56524f"/>
<path d="M225.6,68.0 Q226.3,72.0 220.1,73.1 Q213.8,74.2 210.9,72.6 Q208.1,70.9 207.7,66.9 Q207.3,63.0 212.2,61.8 Q217.1,60.5 220.9,62.2 Q224.8,63.9 225.6,68.0Z" fill="#7a7673"/>
<path d="M235.1,52.9 Q233.6,49.0 238.1,47.8 Q242.5,46.6 246.7,47.7 Q250.9,48.9 251.5,50.8 Q252.0,52.8 249.6,55.8 Q247.3,58.8 241.9,57.8 Q236.6,56.8 235.1,52.9Z" fill="#635f5c"/>
<path d="M254.4,127.7 Q252.7,129.0 251.0,128.0 Q249.3,127.1 247.5,125.2 Q245.7,123.4 247.6,122.4 Q249.4,121.4 251.8,121.2 Q254.2,121.1 255.1,123.7 Q256.1,126.4 254.4,127.7Z" fill="#777370"/>
<path d="M18.4,8.2 Q14.5,9.8 10.4,9.1 Q6.3,8.3 6.0,5.2 Q5.8,2.0 9.9,-0.4 Q14.0,-2.8 18.3,-1.5 Q22.6,-0.1 22.5,3.3 Q22.4,6.7 18.4,8.2Z" fill="#585451"/>
<path d="M194.5,144.6 Q192.2,143.9 193.0,141.8 Q193.9,139.7 197.2,139.0 Q200.6,138.3 202.5,139.7 Q204.4,141.2 203.3,143.7 Q202.2,146.3 199.5,145.8 Q196.7,145.3 194.5,144.6Z" fill="#8e8a87"/>
<path d="M188.4,12.4 Q191.6,13.8 194.0,16.2 Q196.4,18.6 194.1,20.7 Q191.9,22.9 187.3,22.7 Q182.7,22.5 179.4,19.5 Q176.1,16.6 180.6,13.9 Q185.2,11.1 188.4,12.4Z" fill="#64605d"/>
<path d="M47.3,73.0 Q41.8,71.9 40.0,69.1 Q38.2,66.3 42.8,64.1 Q47.4,61.8 52.1,62.3 Q56.7,62.8 57.0,66.4 Q57.3,70.0 55.0,72.0 Q52.7,74.1 47.3,73.0Z" fill="#797572"/>
<path d="M-5.1,70.1 Q-6.2,68.2 -5.6,66.1 Q-5.1,64.0 -1.4,65.1 Q2.3,66.1 3.1,67.4 Q3.8,68.6 1.6,70.3 Q-0.7,72.1 -2.4,72.0 Q-4.0,71.9 -5.1,70.1Z" fill="#6b6764"/>
<path d="M110.2,7.5 Q109.5,10.2 105.5,10.9 Q101.4,11.6 100.3,10.1 Q99.1,8.7 99.3,5.3 Q99.4,1.8 104.0,0.9 Q108.7,0.0 109.8,2.4 Q110.9,4.9 110.2,7.5Z" fill="#85817e"/>
<path d="M4.7,34.2 Q6.9,34.5 8.0,36.1 Q9.1,37.7 7.4,38.8 Q5.7,40.0 3.7,40.2 Q1.7,40.5 0.6,39.3 Q-0.6,38.2 0.9,36.0 Q2.4,33.9 4.7,34.2Z" fill="#8a8683"/>
<path d="M202.9,129.5 Q203.0,132.9 199.7,134.0 Q196.5,135.2 193.9,134.8 Q191.3,134.4 189.7,131.4 Q188.0,128.3 190.5,126.2 Q193.0,124.1 197.9,125.1 Q202.9,126.1 202.9,129.5Z" fill="#7a7673"/>
<path d="M222.3,126.9 Q218.1,126.7 217.1,123.7 Q216.1,120.8 220.7,118.6 Q225.2,116.5 228.6,118.4 Q232.0,120.3 231.7,122.6 Q231.3,124.9 228.9,126.0 Q226.5,127.2 222.3,126.9Z" fill="#585451"/>
<path d="M132.1,108.5 Q130.1,107.0 130.3,103.0 Q130.6,99.0 136.4,99.8 Q142.2,100.6 144.8,102.1 Q147.5,103.6 145.3,106.8 Q143.2,110.0 138.7,110.0 Q134.2,110.0 132.1,108.5Z" fill="#504c49"/>
<path d="M21.8,129.5 Q18.0,130.9 15.3,130.4 Q12.6,129.8 12.8,127.4 Q13.0,124.9 15.4,123.0 Q17.8,121.0 20.3,122.6 Q22.8,124.2 24.2,126.1 Q25.5,128.0 21.8,129.5Z" fill="#706c69"/>
<path d="M261.8,102.6 Q261.1,104.5 259.7,105.2 Q258.3,105.9 255.1,105.4 Q251.9,105.0 252.2,103.1 Q252.5,101.2 255.3,100.3 Q258.1,99.3 260.3,100.0 Q262.5,100.7 261.8,102.6Z" fill="#6c6865"/>
<path d="M68.3,81.5 Q63.7,82.5 58.1,79.7 Q52.4,76.9 55.2,73.3 Q58.0,69.7 61.6,69.5 Q65.2,69.3 69.7,70.7 Q74.2,72.2 73.5,76.3 Q72.9,80.5 68.3,81.5Z" fill="#504c49"/>
<path d="M49.0,78.5 Q51.3,77.7 53.6,78.6 Q55.9,79.5 56.5,80.8 Q57.0,82.1 55.2,82.8 Q53.3,83.6 51.3,82.9 Q49.4,82.3 48.1,80.8 Q46.8,79.3 49.0,78.5Z" fill="#504c49"/>
<path d="M19.0,79.8 Q23.3,80.4 26.0,83.0 Q28.7,85.6 25.9,87.1 Q23.1,88.6 17.8,88.8 Q12.5,89.0 10.8,86.2 Q9.0,83.5 11.8,81.3 Q14.7,79.2 19.0,79.8Z" fill="#534f4c"/>
<path d="M189.1,71.7 Q190.1,66.8 194.2,66.1 Q198.3,65.4 204.0,67.1 Q209.7,68.9 209.0,72.4 Q208.3,76.0 203.2,77.7 Q198.2,79.5 193.2,78.0 Q188.1,76.5 189.1,71.7Z" fill="#5d5956"/>
<path d="M103.1,59.7 Q105.3,60.0 106.2,61.6 Q107.1,63.3 105.4,65.0 Q103.7,66.6 101.4,66.5 Q99.0,66.3 98.4,64.5 Q97.8,62.6 99.3,61.0 Q100.9,59.4 103.1,59.7Z" fill="#635f5c"/>
<path d="M206.9,131.5 Q207.1,129.2 208.8,128.1 Q210.5,126.9 213.8,128.2 Q217.2,129.5 218.0,131.6 Q218.8,133.6 216.0,134.9 Q213.1,136.2 210.0,134.9 Q206.8,133.7 206.9,131.5Z" fill="#55514e"/>
<path d="M264.5,120.6 Q269.0,121.8 269.8,125.0 Q270.5,128.1 265.7,128.8 Q260.8,129.5 257.5,129.0 Q254.3,128.5 254.0,125.8 Q253.7,123.1 256.8,121.2 Q259.9,119.3 264.5,120.6Z" fill="#8c8885"/>
<path d="M49.1,107.0 Q51.3,105.5 56.8,106.6 Q62.4,107.7 61.5,111.3 Q60.6,115.0 58.4,116.3 Q56.1,117.6 50.9,116.4 Q45.7,115.2 46.3,111.9 Q46.9,108.6 49.1,107.0Z" fill="#8c8885"/>
<path d="M164.0,1.1 Q167.6,-1.0 170.7,-1.4 Q173.7,-1.8 175.9,1.8 Q178.0,5.4 175.6,7.0 Q173.1,8.6 169.2,8.1 Q165.3,7.6 162.8,5.4 Q160.4,3.2 164.0,1.1Z" fill="#6d6966"/>
<path d="M237.3,108.7 Q235.0,108.2 234.1,107.2 Q233.3,106.2 234.4,104.9 Q235.4,103.7 237.5,103.2 Q239.5,102.7 241.1,104.7 Q242.6,106.8 241.2,107.9 Q239.7,109.1 237.3,108.7Z" fill="#827e7b"/>
<path d="M230.0,106.5 Q234.1,106.0 235.1,108.1 Q236.1,110.3 236.0,112.5 Q235.9,114.7 231.3,116.2 Q226.7,117.8 224.5,115.5 Q222.4,113.2 224.2,110.1 Q226.0,107.1 230.0,106.5Z" fill="#807c79"/>
<path d="M249.0,23.1 Q249.3,24.4 248.0,25.6 Q246.7,26.9 243.7,26.5 Q240.6,26.2 240.4,24.6 Q240.2,23.0 241.6,21.2 Q243.0,19.5 245.8,20.6 Q248.7,21.8 249.0,23.1Z" fill="#716d6a"/>
<path d="M131.1,6.6 Q133.2,8.1 133.7,10.0 Q134.1,11.9 130.3,12.7 Q126.6,13.4 124.3,12.6 Q122.1,11.8 122.2,8.9 Q122.4,6.1 125.7,5.6 Q129.0,5.2 131.1,6.6Z" fill="#8b8784"/>
<path d="M176.0,76.2 Q177.5,78.8 177.0,81.6 Q176.5,84.5 171.4,84.4 Q166.2,84.3 163.5,80.9 Q160.8,77.4 163.9,75.6 Q166.9,73.8 170.7,73.8 Q174.5,73.7 176.0,76.2Z" fill="#595552"/>
<path d="M259.6,0.1 Q261.6,-2.4 265.1,-3.3 Q268.6,-4.2 270.4,-1.5 Q272.2,1.3 271.6,3.6 Q271.0,6.0 267.1,6.9 Q263.2,7.7 260.4,5.2 Q257.6,2.6 259.6,0.1Z" fill="#635f5c"/>
<path d="M196.8,2.4 Q192.9,1.6 191.4,-0.5 Q189.8,-2.7 192.3,-4.8 Q194.8,-7.0 198.1,-7.2 Q201.4,-7.3 204.3,-4.9 Q207.2,-2.5 204.0,0.3 Q200.8,3.1 196.8,2.4Z" fill="#605c59"/>
<path d="M47.4,104.9 Q50.6,107.5 51.0,109.2 Q51.3,110.8 47.3,112.3 Q43.4,113.8 41.3,111.7 Q39.2,109.7 39.7,107.6 Q40.1,105.6 42.1,104.0 Q44.1,102.4 47.4,104.9Z" fill="#807c79"/>
<circle cx="239" cy="52" r="2" fill="#e0dcd6"/><circle cx="241" cy="97" r="2.3" fill="#e0dcd6"/>
<path d="M0,36 Q20,30 40,36 Q60,50 66,60 Q62,100 50,143.5 L0,143.5 Z" fill="#728c50"/>
<path d="M40,100 Q70,96 110,112 Q118,130 116,144 L36,144 Z" fill="#748a52"/>
<ellipse cx="5" cy="20" rx="9" ry="5.5" fill="#5f8a46" transform="rotate(-20 5 20)"/>
<ellipse cx="22" cy="6" rx="11" ry="6" fill="#9fc070" transform="rotate(-25 22 6)" stroke="#b8a060" stroke-width="0.7"/>
<ellipse cx="53" cy="27" rx="11" ry="21" fill="#a8c270" transform="rotate(8 53 27)" stroke="#c0b070" stroke-width="0.7"/>
<ellipse cx="52" cy="48" rx="12" ry="11" fill="#7a9460" transform="rotate(0 52 48)"/>
<ellipse cx="27" cy="31" rx="6" ry="10.5" fill="#a9c47c" transform="rotate(12 27 31)"/>
<ellipse cx="36" cy="30" rx="5.5" ry="14" fill="#98b868" transform="rotate(4 36 30)"/>
<ellipse cx="10" cy="32" rx="10" ry="7" fill="#8eac6c" transform="rotate(-5 10 32)"/>
<ellipse cx="5" cy="44" rx="5" ry="7.5" fill="#5a8a48" transform="rotate(0 5 44)"/>
<ellipse cx="23" cy="58" rx="11" ry="12.5" fill="#8eac6c" transform="rotate(-20 23 58)"/>
<ellipse cx="7" cy="76" rx="8" ry="6" fill="#b0d060" transform="rotate(0 7 76)"/>
<ellipse cx="7" cy="95" rx="8" ry="13" fill="#c8c880" transform="rotate(0 7 95)" stroke="#d0a050" stroke-width="0.7"/>
<ellipse cx="22" cy="112" rx="19" ry="26" fill="#80985e" transform="rotate(-25 22 112)"/>
<ellipse cx="42" cy="122" rx="12" ry="20" fill="#8aa266" transform="rotate(25 42 122)"/>
<ellipse cx="56" cy="126" rx="16" ry="14" fill="#8aa060" transform="rotate(20 56 126)"/>
<ellipse cx="9" cy="137" rx="9" ry="7" fill="#b8b868" transform="rotate(-10 9 137)" stroke="#c89050" stroke-width="0.7"/>
<ellipse cx="95" cy="128" rx="14" ry="10" fill="#7a9058" transform="rotate(-10 95 128)"/>
<ellipse cx="124" cy="118" rx="14" ry="13" fill="#8a9a60" transform="rotate(0 124 118)"/>
<ellipse cx="122" cy="88" rx="16" ry="10" fill="#6a8040" transform="rotate(0 122 88)"/>
<ellipse cx="49" cy="139" rx="9" ry="5" fill="#7a7874" transform="rotate(0 49 139)"/>
<path d="M5,7 Q16,24 24.7,41.3 M1,34.5 Q14,36 24.7,41.3 M1.7,52.4 Q14,44 24.7,41.3 L48.6,46.4" stroke="#a87858" stroke-width="2.4" fill="none"/>
<ellipse cx="85" cy="29" rx="11" ry="7.5" fill="#6f7a3e" transform="rotate(0 85 29)"/>
<ellipse cx="82" cy="27" rx="6.5" ry="4" fill="#b8c060" transform="rotate(-10 82 27)"/>
<ellipse cx="128" cy="20" rx="9" ry="7" fill="#7a8a40" transform="rotate(0 128 20)"/>
<ellipse cx="127" cy="19" rx="6" ry="4.5" fill="#c0c862" transform="rotate(-10 127 19)"/>
<ellipse cx="132" cy="34" rx="6" ry="5" fill="#8aa050" transform="rotate(0 132 34)"/>
<ellipse cx="118" cy="41" rx="12" ry="9" fill="#9ab860" transform="rotate(-10 118 41)"/>
<ellipse cx="105" cy="54" rx="10.5" ry="18" fill="#98b048" transform="rotate(0 105 54)"/>
<ellipse cx="198" cy="104" rx="7" ry="7" fill="#a9b252" transform="rotate(0 198 104)"/>
<ellipse cx="204" cy="99" rx="5" ry="4" fill="#c0c060" transform="rotate(0 204 99)"/>
<ellipse cx="174" cy="134" rx="17" ry="8" fill="#aab85e" transform="rotate(0 174 134)"/>
<ellipse cx="150" cy="126" rx="12" ry="9" fill="#8a9a50" transform="rotate(0 150 126)"/>
<ellipse cx="138" cy="136" rx="9" ry="8" fill="#6d7a48" transform="rotate(0 138 136)"/>
<ellipse cx="80.5" cy="51.5" rx="18.5" ry="17" fill="#d6c63e" transform="rotate(0 80.5 51.5)" stroke="#c8904a" stroke-width="0.9"/>
<ellipse cx="45" cy="74" rx="17" ry="14" fill="#d9c95a" transform="rotate(-8 45 74)" stroke="#c8904a" stroke-width="0.9"/>
<ellipse cx="94" cy="79" rx="10.5" ry="15" fill="#dccc46" transform="rotate(5 94 79)" stroke="#c8904a" stroke-width="0.9"/>
<ellipse cx="82" cy="106" rx="17" ry="12.5" fill="#d8c440" transform="rotate(-10 82 106)" stroke="#c8904a" stroke-width="0.9"/>
<ellipse cx="66" cy="94" rx="17" ry="14.5" fill="#ddd050" transform="rotate(-20 66 94)" stroke="#c8904a" stroke-width="0.9"/>
<ellipse cx="72" cy="68" rx="13.5" ry="14" fill="#e2d650" transform="rotate(0 72 68)" stroke="#c8904a" stroke-width="0.9"/>
<ellipse cx="70" cy="76" rx="7" ry="6" fill="#ece470" transform="rotate(0 70 76)"/>
<path d="M60,64 L66,72 M80,40 Q78,55 72,70 M90,74 L76,78 M64,88 L70,80" stroke="#f0ec90" stroke-width="1" fill="none" opacity="0.7"/>
</g>
<path id="bigmask" d="M153.3,39.6 C153.6,37.0 153.6,27.9 155.0,23.8 C156.4,19.7 159.3,16.8 162.0,15.0 C164.7,13.2 167.1,12.4 170.9,13.3 C174.7,14.2 180.8,17.1 184.9,20.3 C189.0,23.5 193.1,28.8 195.4,32.6 C197.7,36.4 198.3,40.2 198.9,43.1 C199.5,46.0 198.9,48.9 198.9,50.1 C200.7,50.4 205.1,50.7 209.5,51.9 C213.9,53.1 220.8,55.2 225.2,57.2 C229.6,59.2 233.5,61.6 235.8,64.2 C238.2,66.8 239.2,69.8 239.3,73.0 C239.4,76.2 238.3,80.3 236.6,83.5 C234.8,86.7 232.5,90.2 228.8,92.2 C225.2,94.2 220.5,95.1 214.7,95.7 C208.8,96.3 197.2,95.7 193.7,95.7 C193.1,97.5 191.4,102.5 190.2,106.3 C189.0,110.1 188.6,114.8 186.6,118.5 C184.6,122.2 180.8,126.4 177.9,128.2 C175.0,129.9 172.0,129.7 169.1,129.0 C166.2,128.3 162.9,126.4 160.3,123.8 C157.7,121.2 155.6,116.5 153.3,113.3 C151.0,110.1 147.5,106.0 146.3,104.5 C145.4,104.8 143.1,106.9 141.0,106.3 C138.9,105.7 135.4,103.9 134.0,101.0 C132.6,98.1 133.5,91.5 132.3,88.7 C131.1,86.0 127.9,85.2 127.0,84.5 C125.8,84.0 122.5,83.5 119.8,81.7 C117.1,80.0 112.9,76.9 111.0,74.0 C109.1,71.1 108.4,67.7 108.4,64.2 C108.4,60.7 109.1,56.1 111.0,53.0 C112.9,49.9 115.4,47.2 119.8,45.7 C124.2,44.2 133.0,44.3 137.4,44.0 C141.8,43.7 143.7,44.7 146.3,44.0 C149.0,43.3 152.1,40.3 153.3,39.6 Z"/>
<path id="smallmask" d="M59.3,67.7 C59.4,66.4 59.3,62.0 60.0,60.0 C60.7,58.0 62.0,56.6 63.7,55.4 C65.4,54.1 68.0,52.9 70.0,52.5 C72.0,52.1 74.0,52.0 76.0,52.8 C78.0,53.5 80.7,55.4 82.0,57.0 C83.3,58.6 83.0,60.7 83.8,62.4 C84.6,64.1 86.3,65.2 87.0,67.0 C87.7,68.8 88.6,70.8 88.2,73.0 C87.8,75.2 85.3,78.8 84.7,80.0 C85.1,81.0 86.7,84.2 87.0,86.0 C87.3,87.8 87.2,88.8 86.5,90.5 C85.8,92.2 84.2,94.5 83.0,96.0 C81.8,97.5 81.3,98.0 79.5,99.3 C77.7,100.6 74.6,102.7 72.0,104.0 C69.4,105.3 66.4,106.9 63.7,107.1 C61.0,107.3 57.8,106.0 56.0,105.0 C54.2,104.0 53.6,103.0 53.0,101.0 C52.4,99.0 52.3,95.6 52.5,93.0 C52.7,90.4 52.4,87.7 54.0,85.2 C55.6,82.7 60.7,79.4 62.0,78.2 C61.5,76.5 59.8,69.5 59.3,67.7 Z"/>
<path id="yelmask" d="M60.0,62.0 C60.2,59.3 60.2,50.2 61.0,46.0 C61.8,41.8 62.2,39.0 65.0,37.0 C67.8,35.0 73.5,33.7 78.0,34.0 C82.5,34.3 88.5,36.3 92.0,39.0 C95.5,41.7 97.8,45.8 99.0,50.0 C100.2,54.2 99.0,61.7 99.0,64.0 C99.7,65.0 102.1,67.3 103.0,70.0 C103.9,72.7 104.6,76.7 104.4,80.0 C104.2,83.3 103.2,87.3 102.0,90.0 C100.8,92.7 97.8,95.0 97.0,96.0 C97.3,97.3 99.2,101.3 99.0,104.0 C98.8,106.7 97.8,109.7 96.0,112.0 C94.2,114.3 91.0,116.9 88.0,118.0 C85.0,119.1 81.3,118.7 78.0,118.5 C74.7,118.3 70.7,118.4 68.0,117.0 C65.3,115.6 63.0,111.2 62.0,110.0 C60.7,109.5 56.0,108.7 54.0,107.0 C52.0,105.3 50.7,101.2 50.0,100.0 C49.0,99.0 46.7,96.0 44.0,94.0 C41.3,92.0 36.5,90.3 34.0,88.0 C31.5,85.7 29.9,83.0 29.0,80.0 C28.1,77.0 27.9,73.2 28.6,70.0 C29.3,66.8 30.4,63.0 33.0,61.0 C35.6,59.0 40.5,58.5 44.0,58.0 C47.5,57.5 51.3,57.3 54.0,58.0 C56.7,58.7 59.0,61.3 60.0,62.0 Z"/>

<g id="bigdetail">
<g fill="#8fae9e" fill-opacity="0.45" stroke="#aea6c4" stroke-width="0.9">
<path d="M162,55 Q158,38 170,31 Q184,28 194,42 Q196,52 190,58 Q176,62 162,55 Z"/>
<path d="M165.6,70 Q150,58 139,66 Q136,78 150,82 Q160,84 166,80 Z"/>
<path d="M188,62 Q205,58 213,72 Q212,86 196,88 Q188,86 186,80 Z"/>
<path d="M163,82 Q164,96 176,96 Q188,94 190,80 Z"/>
</g>
<path d="M164,64 Q166,50 178,50 Q190,52 190,66 Q190,80 176,80 Q164,78 164,64 Z" fill="#9cb8b0" fill-opacity="0.5" stroke="#aea6c4" stroke-width="0.9"/>
<g fill="none" stroke="#b4c8c8" stroke-width="0.7" opacity="0.8">
<path d="M112,64 Q140,60 165,68 M200,74 Q220,76 238,74 M172,16 L174,50 M176,96 L172,127"/>
</g>
<path d="M174,72 Q176,64 183,65 Q189,68 187,75 Q183,81 177,79 Z" fill="#b6c6da"/>
</g>
</defs>
<!-- title -->

<!-- left container -->
<rect x="118.5" y="57.5" width="398.5" height="380.5" rx="20" fill="#eff2f5"/>
<rect x="139.5" y="87" width="354" height="147.5" rx="14" fill="#fff" stroke="#5f7085" stroke-width="3"/>
<rect x="139.5" y="262" width="354" height="151.5" rx="14" fill="#fff" stroke="#5f7085" stroke-width="3"/>
<circle cx="228" cy="161" r="40" fill="#66778a"/>
<circle cx="228" cy="338" r="40" fill="#66778a"/>
<g fill="none" stroke="#fff" stroke-width="2" stroke-linejoin="round" stroke-linecap="round">
<path d="M207,145.7 H248.8 Q250.6,145.7 250.7,147.5 Q252.5,160.75 250.7,174 Q250.6,175.8 248.8,175.8 H207 Q205.2,175.8 205.1,174 Q203.3,160.75 205.1,147.5 Q205.2,145.7 207,145.7 Z"/>
<path d="M223.6,155.6 Q223.6,154.2 224.8,154.9 L233.3,159.9 Q234.2,160.7 233.3,161.5 L224.8,166.5 Q223.6,167.2 223.6,165.8 Z"/>
<circle cx="228" cy="336.8" r="6.95"/>
<circle cx="228.2" cy="317.6" r="2.3"/>
<circle cx="211.2" cy="326.5" r="4.6"/>
<circle cx="244.6" cy="326.5" r="4.6"/>
<circle cx="210.6" cy="345.6" r="2.3"/>
<circle cx="245.2" cy="345.6" r="2.3"/>
<circle cx="228.2" cy="355.8" r="4.6"/>
<line x1="228" y1="329.85" x2="228.2" y2="319.9"/>
<line x1="228" y1="343.75" x2="228.2" y2="351.2"/>
<line x1="222" y1="333.3" x2="215.3" y2="328.9"/>
<line x1="234" y1="333.3" x2="240.5" y2="328.9"/>
<line x1="221.8" y1="340.2" x2="212.7" y2="344.5"/>
<line x1="234.2" y1="340.2" x2="243.1" y2="344.5"/>
</g>

<!-- top arrows -->
<g stroke="#a5b1be" stroke-width="3.8" fill="none" stroke-linecap="round" stroke-linejoin="round">
<line x1="523" y1="249" x2="633" y2="249"/><polyline points="620.5,236.5 633,249 620.5,261.5"/>
<line x1="901" y1="249" x2="1045" y2="249"/><polyline points="1032.5,236.5 1045,249 1032.5,261.5"/>
<line x1="1313" y1="249" x2="1456" y2="249"/><polyline points="1443.5,236.5 1456,249 1443.5,261.5"/>
<line x1="1724" y1="249" x2="1867" y2="249"/><polyline points="1854.5,236.5 1867,249 1854.5,261.5"/>
</g>

<!-- top boxes -->
<rect x="639" y="176.5" width="261" height="143" rx="19" fill="#b0d7fd"/>
<rect x="1051" y="176.5" width="261" height="143" rx="19" fill="#b0d7fd"/>
<rect x="1462" y="176.5" width="261" height="143" rx="19" fill="#b0d7fd"/>
<rect x="1536" y="248.5" width="115.5" height="38" rx="19" fill="#fff"/>

<!-- photo 1 placeholder -->
<g clip-path="url(#c1)"><g transform="translate(1873 176.5)">
<use href="#pbase"/>
<use href="#smallmask" fill="#96b3b8" fill-opacity="0.9" stroke="#4e7fe0" stroke-width="1"/>
<use href="#bigmask" fill="#9ab7b6" fill-opacity="0.9" stroke="#4e7fe0" stroke-width="1"/>
<use href="#bigdetail"/>
<rect x="108.9" y="12.9" width="130" height="117" fill="none" stroke="#5a86e0" stroke-width="1"/>
</g></g>

<!-- right column -->
<g stroke="#a5b1be" stroke-width="3.8" fill="none" stroke-linecap="round" stroke-linejoin="round">
<line x1="2004" y1="371" x2="2004" y2="411"/><polyline points="1990.5,398.5 2004,411 2017.5,398.5"/>
<line x1="2004" y1="471" x2="2004" y2="546"/><polyline points="1990.5,533.5 2004,546 2017.5,533.5"/>
<polyline points="1931.5,533.5 1944.8,546.5 1958.3,533.5"/>
<line x1="1868" y1="627" x2="1830" y2="627"/><polyline points="1842.5,614.5 1830,627 1842.5,639.5"/>
<line x1="1769" y1="626.2" x2="1731" y2="626.2"/><polyline points="1743.5,613.7 1731,626.2 1743.5,638.7"/>
<line x1="1462" y1="631" x2="1318" y2="631"/><polyline points="1330.5,618.5 1318,631 1330.5,643.5"/>
<line x1="1050" y1="631" x2="905" y2="631"/><polyline points="917.5,618.5 905,631 917.5,643.5"/>
<path d="M2003.6,705 V766.8 A23,23 0 0 1 1980.6,789.8 H1841"/><polyline points="1853.5,777.5 1841,790 1853.5,802.5"/>
<path d="M1763,789.8 H792.7 A22,22 0 0 1 770.7,767.8 V750.5"/><polyline points="757.7,762.5 770.7,749.8 783.7,762.5"/>
</g>
<!-- dashed -->
<g stroke="#a5b1be" stroke-width="3.7" fill="none" stroke-linejoin="round">
<path d="M770.5,504.4 V486.3 A20,20 0 0 1 790.5,466.3 H1924.8 A20,20 0 0 1 1944.8,486.3 V545" stroke-dasharray="7.8 8.294" stroke-dashoffset="15.05"/>
<path d="M1594,466 V309" stroke-dasharray="7.8 8.3" stroke-dashoffset="11.3"/>
</g>
<polyline points="1580.5,309.5 1594,296 1607.5,309.5" stroke="#a5b1be" stroke-width="3.5" fill="none" stroke-linecap="round" stroke-linejoin="round"/>

<rect x="1873" y="554" width="261" height="146" rx="20" fill="#eff2f5"/>
<rect x="1888" y="574" width="232" height="45" rx="22.5" fill="#b0d7fd"/>
<rect x="1888" y="632.5" width="232" height="44.5" rx="22.25" fill="#ffb1b7"/>

<!-- bottom row -->
<rect x="1051" y="555" width="260" height="143" rx="20" fill="#ffb1b7"/>
<g clip-path="url(#c2)"><g transform="translate(1463.5 554.5)">
<use href="#pbase"/>
<use href="#bigmask" fill="#9ab7b6" fill-opacity="0.9" stroke="#4e7fe0" stroke-width="1"/>
<use href="#bigdetail"/>
<rect x="108.9" y="12.9" width="130" height="117" fill="none" stroke="#5a86e0" stroke-width="1"/>
</g></g>
<g clip-path="url(#c3)"><g transform="translate(639 554.5)">
<use href="#pbase"/>
<use href="#yelmask" fill="#9cb6b6" fill-opacity="0.9" stroke="#4e7fe0" stroke-width="1"/>
<g fill="#8fae9e" fill-opacity="0.35" stroke="#aea6c4" stroke-width="0.9">
<path d="M62,62 Q64,48 74,46 Q86,46 90,58 Q90,68 84,72 Q72,72 62,62 Z"/>
<path d="M60,86 Q52,96 60,104 Q70,110 80,104 Q84,96 78,88 Z"/>
<path d="M84,72 Q96,74 97,86 Q94,94 84,94 Z"/>
<path d="M62,70 Q48,66 40,72 Q38,80 48,84 Q58,84 62,80 Z"/>
</g>
<path d="M66,78 Q68,70 75,70 Q82,72 82,79 Q80,86 73,86 Q66,84 66,78 Z" fill="#a8bcc4" fill-opacity="0.8" stroke="#aea6c4" stroke-width="0.8"/>
<use href="#bigmask" fill="#9ab7b6" fill-opacity="0.9" stroke="#4e7fe0" stroke-width="1"/>
<use href="#bigdetail"/>
<rect x="28.7" y="35.2" width="76" height="83.5" fill="none" stroke="#5a86e0" stroke-width="1"/>
<rect x="108.9" y="12.9" width="130" height="117" fill="none" stroke="#5a86e0" stroke-width="1"/>
</g></g>

<!-- legend -->
<rect x="120" y="556.5" width="395.5" height="139" rx="19" fill="#fff" stroke="#8292a3" stroke-width="3"/>
<rect x="146" y="582" width="36.5" height="36.5" rx="8" fill="#b0d7fd"/>
<rect x="146" y="639" width="36.5" height="36.5" rx="8" fill="#ffb1b7"/>
<g stroke="#6b7b8d" stroke-width="4" fill="none" stroke-linecap="round" stroke-linejoin="round">
<line x1="356" y1="600" x2="396" y2="600"/><polyline points="382,586.5 396,600 382,613.5"/>
<polyline points="382,637 396,651 382,665"/>
</g>
<line x1="355" y1="651" x2="393" y2="651" stroke="#6b7b8d" stroke-width="4" stroke-dasharray="5 4.5"/>
<g stroke="#1c2b33" stroke-width="0.3">
<text x="1125.75" y="70" font-size="30" text-anchor="middle" textLength="271.80" lengthAdjust="spacingAndGlyphs">SAM 3 data engine</text>
<text x="367.00" y="170" font-size="26" text-anchor="middle" textLength="138.55" lengthAdjust="spacingAndGlyphs">Media Pool</text>
<text x="355.50" y="347.6" font-size="26" text-anchor="middle" textLength="115.71" lengthAdjust="spacingAndGlyphs">Ontology</text>
<text x="768.75" y="257.5" font-size="26" text-anchor="middle" textLength="124.89" lengthAdjust="spacingAndGlyphs">Mine data</text>
<text x="1181.00" y="257.5" font-size="26" text-anchor="middle" textLength="162.45" lengthAdjust="spacingAndGlyphs">Propose NPs</text>
<text x="1593.50" y="227.8" font-size="26" text-anchor="middle" textLength="177.00" lengthAdjust="spacingAndGlyphs">Propose mask</text>
<text x="1593.75" y="277.3" font-size="24" text-anchor="middle" textLength="82.22" lengthAdjust="spacingAndGlyphs">SAM 3</text>
<text x="2003.50" y="351.2" font-size="24" text-anchor="middle" textLength="78.72" lengthAdjust="spacingAndGlyphs">Flower</text>
<text x="2004.00" y="450.3" font-size="24" text-anchor="middle" textLength="129.66" lengthAdjust="spacingAndGlyphs">Candidates</text>
<text x="2005.00" y="605.6" font-size="26" text-anchor="middle" textLength="133.57" lengthAdjust="spacingAndGlyphs">AI verifiers</text>
<text x="2004.00" y="664" font-size="26" text-anchor="middle" textLength="199.45" lengthAdjust="spacingAndGlyphs">Human verifiers</text>
<text x="1799.00" y="636.2" font-size="24" text-anchor="middle" textLength="43.22" lengthAdjust="spacingAndGlyphs">Fail</text>
<text x="1594.00" y="541" font-size="24" text-anchor="middle" textLength="207.94" lengthAdjust="spacingAndGlyphs">Incomplete masks</text>
<text x="1593.25" y="729.3" font-size="24" text-anchor="middle" textLength="77.66" lengthAdjust="spacingAndGlyphs">Flower</text>
<text x="1180.50" y="635.9" font-size="26" text-anchor="middle" textLength="95.33" lengthAdjust="spacingAndGlyphs">Correct</text>
<text x="770.25" y="541.3" font-size="24" text-anchor="middle" textLength="196.89" lengthAdjust="spacingAndGlyphs">Final annotations</text>
<text x="770.00" y="730.4" font-size="24" text-anchor="middle" textLength="78.70" lengthAdjust="spacingAndGlyphs">Flower</text>
<text x="1801.50" y="798.7" font-size="24" text-anchor="middle" textLength="55.52" lengthAdjust="spacingAndGlyphs">Pass</text>
<text x="256.75" y="610.1" font-size="26" text-anchor="middle" textLength="111.03" lengthAdjust="spacingAndGlyphs">AI model</text>
<text x="245.25" y="667.3" font-size="26" text-anchor="middle" textLength="92.11" lengthAdjust="spacingAndGlyphs">Human</text>
<text x="447.00" y="610" font-size="26" text-anchor="middle" textLength="71.19" lengthAdjust="spacingAndGlyphs">Label</text>
<text x="444.50" y="660.9" font-size="26" text-anchor="middle" textLength="64.13" lengthAdjust="spacingAndGlyphs">Train</text>
</g>
</svg>
</body></html>
